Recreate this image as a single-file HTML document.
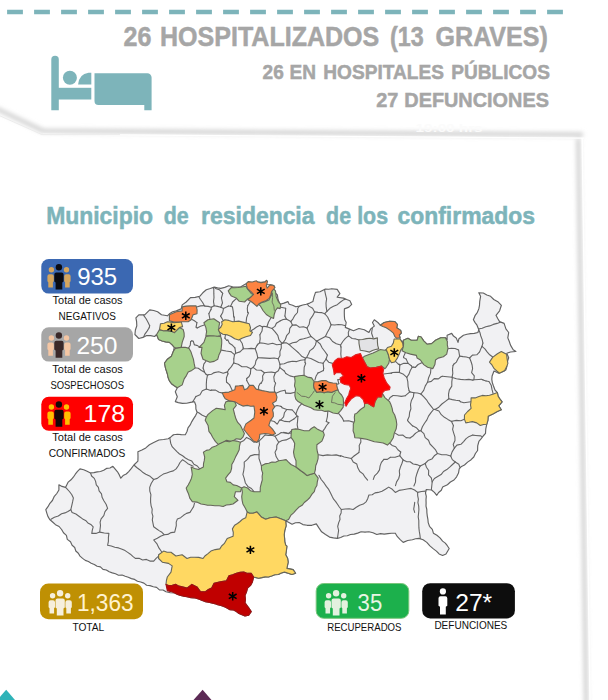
<!DOCTYPE html>
<html lang="es"><head><meta charset="utf-8"><title>Municipio de residencia de los confirmados</title>
<style>html,body{margin:0;padding:0;background:#fff}body{width:608px;height:700px;overflow:hidden;position:relative}svg{position:absolute;left:0;top:0;display:block}text{font-family:"Liberation Sans",sans-serif}</style></head><body>
<svg width="608" height="700" viewBox="0 0 608 700">
<defs><filter id="blur" x="-5%" y="-5%" width="110%" height="110%"><feGaussianBlur stdDeviation="1.9"/></filter></defs>
<rect x="0" y="0" width="608" height="700" fill="#fff"/>
<g filter="url(#blur)" fill="none" stroke="#d4d4d4" stroke-width="4.6" stroke-linejoin="round">
<polyline points="-4,108.5 43,130.8 300,132.6 583,134.6"/>
<polyline points="578.3,139 586.2,704"/>
</g>
<polyline points="43,134.4 300,136.2 584,138.2" fill="none" stroke="#fff" stroke-width="1.3"/>
<polyline points="582.2,138 590.1,704" fill="none" stroke="#fff" stroke-width="1.4"/>
<polyline points="-2,115 42,134.6 120,134.6" fill="none" stroke="#ececec" stroke-width="1"/>
<line x1="7.1" y1="12" x2="566" y2="12" stroke="#7db4ba" stroke-width="4.6" stroke-dasharray="15.8 11.2"/>
<g fill="#7db4ba">
<path d="M51.3,59.4 a3.75,3.75 0 0 1 7.5,0 V110.2 H51.3 Z"/>
<circle cx="69.9" cy="77.7" r="7"/>
<path d="M78.1,84.6 Q79,74 88.5,72.8 L91.3,72.8 L91.3,84.6 Z"/>
<rect x="58" y="87.8" width="33.3" height="11.7"/>
<path d="M94.5,73.2 H147.3 a4.3,4.3 0 0 1 4.3,4.3 V110.2 H144.3 V104.9 H98.5 a4,4 0 0 1 -4,-4 Z"/>
</g>
<text x="123.6" y="46.4" font-size="27.5" font-weight="bold" fill="#a6a6a6" text-anchor="start" textLength="27.9" lengthAdjust="spacingAndGlyphs" stroke="#a6a6a6" stroke-width="0.5">26</text>
<text x="160.0" y="46.4" font-size="27.5" font-weight="bold" fill="#a6a6a6" text-anchor="start" textLength="219.3" lengthAdjust="spacingAndGlyphs" stroke="#a6a6a6" stroke-width="0.5">HOSPITALIZADOS</text>
<text x="390.1" y="46.4" font-size="27.5" font-weight="bold" fill="#a6a6a6" text-anchor="start" textLength="33.7" lengthAdjust="spacingAndGlyphs" stroke="#a6a6a6" stroke-width="0.5">(13</text>
<text x="435.6" y="46.4" font-size="27.5" font-weight="bold" fill="#a6a6a6" text-anchor="start" textLength="112.2" lengthAdjust="spacingAndGlyphs" stroke="#a6a6a6" stroke-width="0.5">GRAVES)</text>
<text x="262.6" y="78.6" font-size="20.3" font-weight="bold" fill="#a6a6a6" text-anchor="start" textLength="21.2" lengthAdjust="spacingAndGlyphs" stroke="#a6a6a6" stroke-width="0.5">26</text>
<text x="289.6" y="78.6" font-size="20.3" font-weight="bold" fill="#a6a6a6" text-anchor="start" textLength="26.5" lengthAdjust="spacingAndGlyphs" stroke="#a6a6a6" stroke-width="0.5">EN</text>
<text x="323.3" y="78.6" font-size="20.3" font-weight="bold" fill="#a6a6a6" text-anchor="start" textLength="120.6" lengthAdjust="spacingAndGlyphs" stroke="#a6a6a6" stroke-width="0.5">HOSPITALES</text>
<text x="451.2" y="78.6" font-size="20.3" font-weight="bold" fill="#a6a6a6" text-anchor="start" textLength="98.7" lengthAdjust="spacingAndGlyphs" stroke="#a6a6a6" stroke-width="0.5">PÚBLICOS</text>
<text x="376.2" y="106.7" font-size="20.3" font-weight="bold" fill="#a6a6a6" text-anchor="start" textLength="22.1" lengthAdjust="spacingAndGlyphs" stroke="#a6a6a6" stroke-width="0.5">27</text>
<text x="404.3" y="106.7" font-size="20.3" font-weight="bold" fill="#a6a6a6" text-anchor="start" textLength="144.6" lengthAdjust="spacingAndGlyphs" stroke="#a6a6a6" stroke-width="0.5">DEFUNCIONES</text>
<text x="46.2" y="224.0" font-size="24.4" font-weight="bold" fill="#7db4ba" text-anchor="start" textLength="106.9" lengthAdjust="spacingAndGlyphs" stroke="#7db4ba" stroke-width="0.55">Municipio</text>
<text x="163.8" y="224.0" font-size="24.4" font-weight="bold" fill="#7db4ba" text-anchor="start" textLength="24.9" lengthAdjust="spacingAndGlyphs" stroke="#7db4ba" stroke-width="0.55">de</text>
<text x="201.1" y="224.0" font-size="24.4" font-weight="bold" fill="#7db4ba" text-anchor="start" textLength="113.4" lengthAdjust="spacingAndGlyphs" stroke="#7db4ba" stroke-width="0.55">residencia</text>
<text x="326.1" y="224.0" font-size="24.4" font-weight="bold" fill="#7db4ba" text-anchor="start" textLength="24.9" lengthAdjust="spacingAndGlyphs" stroke="#7db4ba" stroke-width="0.55">de</text>
<text x="357.2" y="224.0" font-size="24.4" font-weight="bold" fill="#7db4ba" text-anchor="start" textLength="30.8" lengthAdjust="spacingAndGlyphs" stroke="#7db4ba" stroke-width="0.55">los</text>
<text x="397.5" y="224.0" font-size="24.4" font-weight="bold" fill="#7db4ba" text-anchor="start" textLength="137.5" lengthAdjust="spacingAndGlyphs" stroke="#7db4ba" stroke-width="0.55">confirmados</text>
<text x="415.6" y="132.0" font-size="11" font-weight="bold" fill="#fbfbfb" text-anchor="start" textLength="67.0" lengthAdjust="spacingAndGlyphs" >19:00 hrs</text>
<g id="map">
<polygon points="134.9,334.5 135.4,330.0 136.8,325.7 136.6,321.7 135.9,317.8 138.8,314.8 144.7,314.8 147.7,311.8 149.7,309.9 153.7,310.5 157.6,311.8 161.5,314.8 167.4,315.8 169.4,313.8 172.6,311.7 176.3,310.9 181.2,308.9 182.2,304.9 186.2,302.0 190.5,297.6 195.2,297.4 199.7,296.3 202.8,292.8 206.3,289.7 210.3,288.5 214.2,287.1 217.5,287.9 220.8,288.4 224.8,287.4 228.7,285.8 232.6,286.7 236.5,287.1 240.5,287.1 243.8,285.1 247.1,283.2 251.7,282.8 256.3,281.8 260.9,282.2 265.5,281.8 266.8,284.5 270.6,284.7 274.2,285.8 273.4,291.1 277.4,295.0 278.1,299.8 280.0,304.2 284.0,303.1 287.9,301.6 289.2,304.2 292.6,305.2 295.8,306.8 299.3,306.1 302.8,305.0 306.3,304.2 309.7,303.1 312.9,301.6 314.0,296.9 315.5,292.4 320.0,291.8 325.4,289.0 328.6,289.3 331.8,288.7 337.2,289.4 339.9,293.6 337.2,297.2 343.5,298.1 346.7,299.5 349.9,300.8 351.7,304.4 348.9,307.1 344.4,308.9 344.3,312.5 344.4,316.2 344.7,319.5 346.2,322.5 345.3,327.4 348.9,328.9 353.5,330.7 358.9,328.5 364.3,329.8 368.9,332.5 370.7,328.9 374.3,326.1 372.5,322.5 374.3,319.8 377.9,322.5 380.3,325.2 384.2,322.5 389.5,321.2 394.7,321.5 397.4,324.5 396.7,327.8 400.7,330.4 401.3,333.1 399.3,335.0 400.0,337.7 400.0,339.0 402.6,342.9 403.3,340.3 407.9,338.3 411.2,340.3 417.1,340.3 418.4,336.3 421.1,337.0 423.7,340.9 427.0,344.2 431.6,343.6 435.5,340.3 440.8,337.7 445.4,337.7 447.1,339.7 447.1,335.2 451.7,333.4 453.5,336.1 456.2,337.9 458.0,342.4 458.9,338.8 463.4,335.2 467.0,334.2 470.6,333.6 474.3,333.4 477.9,332.5 478.8,329.8 477.0,325.2 475.1,322.6 473.4,319.8 475.2,315.3 477.4,312.3 478.8,308.9 479.5,305.3 479.7,301.7 480.6,296.3 478.8,292.7 483.3,293.0 486.8,295.0 490.6,296.3 493.8,299.5 497.8,301.7 501.4,305.3 499.6,310.8 496.0,315.3 497.7,318.5 499.6,321.6 504.1,323.4 505.9,328.9 508.7,332.5 507.8,337.9 509.3,341.5 510.5,345.1 513.2,349.7 515.9,351.5 510.5,352.0 506.8,353.3 508.7,357.8 506.8,363.2 506.8,366.6 505.9,369.9 503.9,371.3 498.7,373.2 494.0,371.0 492.1,376.0 491.8,379.4 492.3,382.6 493.4,385.8 495.0,390.0 497.4,392.6 498.1,396.1 500.0,399.2 502.1,401.8 498.7,405.8 501.3,409.7 497.3,411.6 493.4,413.7 488.2,416.3 487.9,420.3 486.8,424.2 485.8,428.8 485.5,433.4 483.2,436.0 481.2,438.7 478.9,441.3 477.7,445.8 477.6,450.5 475.4,453.5 473.8,457.0 471.1,459.7 467.6,462.1 464.5,465.0 461.5,466.4 459.2,468.9 458.5,473.1 456.6,476.8 454.0,480.0 450.4,482.0 447.4,484.7 442.6,487.1 441.3,490.3 438.6,492.5 436.8,495.3 434.4,492.4 431.6,490.0 426.3,489.5 425.5,493.0 426.3,496.3 426.0,499.6 426.1,502.9 426.0,506.2 426.8,509.5 426.9,512.8 427.3,516.1 427.9,519.3 428.2,522.6 429.5,526.3 432.3,529.4 433.4,533.2 436.9,535.3 440.0,537.9 442.6,541.1 445.3,543.1 447.3,545.7 449.2,548.5 446.0,554.0 442.6,555.5 439.1,553.9 436.4,551.1 433.4,548.9 429.9,545.9 426.8,542.4 423.1,539.8 418.9,538.4 415.6,538.8 412.4,539.7 407.7,540.5 403.2,542.4 400.2,539.6 397.4,536.7 395.3,533.2 391.6,533.3 387.9,533.6 384.2,534.1 380.5,533.6 376.8,534.5 373.0,532.7 368.9,531.8 365.0,532.1 361.1,531.8 357.7,533.1 354.2,534.1 350.5,534.5 347.3,535.7 343.8,536.0 340.7,537.5 337.4,538.4 333.4,537.9 329.5,537.1 325.5,534.5 321.6,531.8 318.9,527.9 316.3,523.9 311.8,525.3 307.1,525.3 302.9,524.6 299.2,522.6 295.5,522.7 292.1,524.2 288.9,522.4 285.7,520.7 286.1,525.9 284.8,530.3 284.2,534.8 284.6,538.3 284.8,541.8 285.7,545.2 286.9,546.2 286.4,550.5 285.7,554.8 287.6,558.3 288.2,562.2 286.9,568.4 293.1,569.6 295.6,573.3 291.9,574.5 288.2,573.2 284.5,572.1 281.3,573.0 278.3,574.5 274.8,574.7 271.6,575.9 268.4,577.0 265.1,576.9 261.8,577.6 258.6,578.2 253.6,577.0 252.4,581.9 250.5,585.4 247.5,588.1 246.5,591.9 245.0,595.5 245.4,599.2 245.0,602.9 248.7,607.9 251.2,611.6 248.7,615.3 245.0,616.0 242.0,614.7 239.0,613.5 236.4,611.6 233.5,609.9 230.0,609.7 227.0,608.0 224.0,606.6 221.0,605.5 217.8,604.8 214.8,603.6 211.7,602.9 208.5,602.2 205.3,601.6 202.3,600.5 199.3,599.2 195.3,598.0 191.1,597.6 187.0,596.8 183.8,596.2 180.7,595.4 177.6,594.4 174.7,593.0 170.3,592.8 166.0,591.8 163.0,590.0 159.4,589.9 156.6,587.4 153.3,586.7 150.0,585.6 146.6,585.2 143.9,583.1 140.7,582.0 137.5,581.2 134.6,579.4 131.4,578.6 128.3,577.3 125.2,576.2 122.1,575.0 118.5,575.2 115.5,573.8 112.3,572.9 109.2,571.8 106.3,570.0 103.0,569.4 100.4,566.9 97.1,566.3 94.3,564.5 91.2,563.2 88.4,561.5 85.3,560.4 82.6,558.4 80.0,556.1 78.3,553.2 75.8,551.0 74.7,547.5 72.1,545.3 70.5,541.8 67.3,539.4 66.4,535.4 63.5,532.8 61.6,529.5 59.1,526.5 55.5,524.7 52.6,522.0 49.7,519.5 47.9,516.4 46.8,513.1 45.8,509.7 48.0,506.7 49.9,503.3 52.4,500.5 54.1,496.7 56.8,493.5 58.9,490.0 58.9,484.7 62.0,486.4 65.5,487.4 68.2,482.1 71.0,479.8 73.3,477.2 75.3,474.2 77.5,471.4 80.0,468.9 83.7,469.7 87.1,471.3 90.5,472.9 93.9,472.6 97.2,471.9 100.5,471.5 103.7,470.3 106.5,468.4 110.0,468.0 112.9,466.3 115.2,469.1 117.5,471.8 119.3,474.9 120.8,478.2 123.1,475.6 126.2,474.0 128.7,471.6 131.4,468.4 133.9,465.0 137.9,461.1 138.0,456.5 137.9,451.8 141.9,450.0 145.8,447.9 149.4,444.8 153.7,442.6 158.9,440.0 163.6,439.5 168.2,438.7 170.9,436.9 173.4,434.7 177.4,434.3 181.3,434.6 185.3,434.7 187.0,431.5 188.0,427.9 190.2,424.9 191.8,421.6 193.6,418.6 195.6,415.6 197.1,412.4 195.9,409.0 195.8,405.2 194.5,401.8 190.5,402.4 186.6,403.2 182.4,403.4 178.3,402.6 175.3,401.6 177.3,396.7 175.3,391.8 177.3,387.8 174.3,385.8 171.5,383.7 169.4,380.9 168.1,377.5 167.4,374.0 165.5,368.1 164.5,363.2 167.4,359.2 171.4,356.2 173.4,351.3 174.3,347.4 172.0,344.7 169.4,342.4 165.7,341.9 162.1,341.0 158.6,339.5 156.6,334.5 154.6,336.5 150.7,335.6 146.7,335.5 142.9,337.4 138.8,338.5" fill="#f1f1f3" stroke="#626262" stroke-width="1.15" stroke-linejoin="round" />
<clipPath id="mc"><polygon points="134.9,334.5 135.4,330.0 136.8,325.7 136.6,321.7 135.9,317.8 138.8,314.8 144.7,314.8 147.7,311.8 149.7,309.9 153.7,310.5 157.6,311.8 161.5,314.8 167.4,315.8 169.4,313.8 172.6,311.7 176.3,310.9 181.2,308.9 182.2,304.9 186.2,302.0 190.5,297.6 195.2,297.4 199.7,296.3 202.8,292.8 206.3,289.7 210.3,288.5 214.2,287.1 217.5,287.9 220.8,288.4 224.8,287.4 228.7,285.8 232.6,286.7 236.5,287.1 240.5,287.1 243.8,285.1 247.1,283.2 251.7,282.8 256.3,281.8 260.9,282.2 265.5,281.8 266.8,284.5 270.6,284.7 274.2,285.8 273.4,291.1 277.4,295.0 278.1,299.8 280.0,304.2 284.0,303.1 287.9,301.6 289.2,304.2 292.6,305.2 295.8,306.8 299.3,306.1 302.8,305.0 306.3,304.2 309.7,303.1 312.9,301.6 314.0,296.9 315.5,292.4 320.0,291.8 325.4,289.0 328.6,289.3 331.8,288.7 337.2,289.4 339.9,293.6 337.2,297.2 343.5,298.1 346.7,299.5 349.9,300.8 351.7,304.4 348.9,307.1 344.4,308.9 344.3,312.5 344.4,316.2 344.7,319.5 346.2,322.5 345.3,327.4 348.9,328.9 353.5,330.7 358.9,328.5 364.3,329.8 368.9,332.5 370.7,328.9 374.3,326.1 372.5,322.5 374.3,319.8 377.9,322.5 380.3,325.2 384.2,322.5 389.5,321.2 394.7,321.5 397.4,324.5 396.7,327.8 400.7,330.4 401.3,333.1 399.3,335.0 400.0,337.7 400.0,339.0 402.6,342.9 403.3,340.3 407.9,338.3 411.2,340.3 417.1,340.3 418.4,336.3 421.1,337.0 423.7,340.9 427.0,344.2 431.6,343.6 435.5,340.3 440.8,337.7 445.4,337.7 447.1,339.7 447.1,335.2 451.7,333.4 453.5,336.1 456.2,337.9 458.0,342.4 458.9,338.8 463.4,335.2 467.0,334.2 470.6,333.6 474.3,333.4 477.9,332.5 478.8,329.8 477.0,325.2 475.1,322.6 473.4,319.8 475.2,315.3 477.4,312.3 478.8,308.9 479.5,305.3 479.7,301.7 480.6,296.3 478.8,292.7 483.3,293.0 486.8,295.0 490.6,296.3 493.8,299.5 497.8,301.7 501.4,305.3 499.6,310.8 496.0,315.3 497.7,318.5 499.6,321.6 504.1,323.4 505.9,328.9 508.7,332.5 507.8,337.9 509.3,341.5 510.5,345.1 513.2,349.7 515.9,351.5 510.5,352.0 506.8,353.3 508.7,357.8 506.8,363.2 506.8,366.6 505.9,369.9 503.9,371.3 498.7,373.2 494.0,371.0 492.1,376.0 491.8,379.4 492.3,382.6 493.4,385.8 495.0,390.0 497.4,392.6 498.1,396.1 500.0,399.2 502.1,401.8 498.7,405.8 501.3,409.7 497.3,411.6 493.4,413.7 488.2,416.3 487.9,420.3 486.8,424.2 485.8,428.8 485.5,433.4 483.2,436.0 481.2,438.7 478.9,441.3 477.7,445.8 477.6,450.5 475.4,453.5 473.8,457.0 471.1,459.7 467.6,462.1 464.5,465.0 461.5,466.4 459.2,468.9 458.5,473.1 456.6,476.8 454.0,480.0 450.4,482.0 447.4,484.7 442.6,487.1 441.3,490.3 438.6,492.5 436.8,495.3 434.4,492.4 431.6,490.0 426.3,489.5 425.5,493.0 426.3,496.3 426.0,499.6 426.1,502.9 426.0,506.2 426.8,509.5 426.9,512.8 427.3,516.1 427.9,519.3 428.2,522.6 429.5,526.3 432.3,529.4 433.4,533.2 436.9,535.3 440.0,537.9 442.6,541.1 445.3,543.1 447.3,545.7 449.2,548.5 446.0,554.0 442.6,555.5 439.1,553.9 436.4,551.1 433.4,548.9 429.9,545.9 426.8,542.4 423.1,539.8 418.9,538.4 415.6,538.8 412.4,539.7 407.7,540.5 403.2,542.4 400.2,539.6 397.4,536.7 395.3,533.2 391.6,533.3 387.9,533.6 384.2,534.1 380.5,533.6 376.8,534.5 373.0,532.7 368.9,531.8 365.0,532.1 361.1,531.8 357.7,533.1 354.2,534.1 350.5,534.5 347.3,535.7 343.8,536.0 340.7,537.5 337.4,538.4 333.4,537.9 329.5,537.1 325.5,534.5 321.6,531.8 318.9,527.9 316.3,523.9 311.8,525.3 307.1,525.3 302.9,524.6 299.2,522.6 295.5,522.7 292.1,524.2 288.9,522.4 285.7,520.7 286.1,525.9 284.8,530.3 284.2,534.8 284.6,538.3 284.8,541.8 285.7,545.2 286.9,546.2 286.4,550.5 285.7,554.8 287.6,558.3 288.2,562.2 286.9,568.4 293.1,569.6 295.6,573.3 291.9,574.5 288.2,573.2 284.5,572.1 281.3,573.0 278.3,574.5 274.8,574.7 271.6,575.9 268.4,577.0 265.1,576.9 261.8,577.6 258.6,578.2 253.6,577.0 252.4,581.9 250.5,585.4 247.5,588.1 246.5,591.9 245.0,595.5 245.4,599.2 245.0,602.9 248.7,607.9 251.2,611.6 248.7,615.3 245.0,616.0 242.0,614.7 239.0,613.5 236.4,611.6 233.5,609.9 230.0,609.7 227.0,608.0 224.0,606.6 221.0,605.5 217.8,604.8 214.8,603.6 211.7,602.9 208.5,602.2 205.3,601.6 202.3,600.5 199.3,599.2 195.3,598.0 191.1,597.6 187.0,596.8 183.8,596.2 180.7,595.4 177.6,594.4 174.7,593.0 170.3,592.8 166.0,591.8 163.0,590.0 159.4,589.9 156.6,587.4 153.3,586.7 150.0,585.6 146.6,585.2 143.9,583.1 140.7,582.0 137.5,581.2 134.6,579.4 131.4,578.6 128.3,577.3 125.2,576.2 122.1,575.0 118.5,575.2 115.5,573.8 112.3,572.9 109.2,571.8 106.3,570.0 103.0,569.4 100.4,566.9 97.1,566.3 94.3,564.5 91.2,563.2 88.4,561.5 85.3,560.4 82.6,558.4 80.0,556.1 78.3,553.2 75.8,551.0 74.7,547.5 72.1,545.3 70.5,541.8 67.3,539.4 66.4,535.4 63.5,532.8 61.6,529.5 59.1,526.5 55.5,524.7 52.6,522.0 49.7,519.5 47.9,516.4 46.8,513.1 45.8,509.7 48.0,506.7 49.9,503.3 52.4,500.5 54.1,496.7 56.8,493.5 58.9,490.0 58.9,484.7 62.0,486.4 65.5,487.4 68.2,482.1 71.0,479.8 73.3,477.2 75.3,474.2 77.5,471.4 80.0,468.9 83.7,469.7 87.1,471.3 90.5,472.9 93.9,472.6 97.2,471.9 100.5,471.5 103.7,470.3 106.5,468.4 110.0,468.0 112.9,466.3 115.2,469.1 117.5,471.8 119.3,474.9 120.8,478.2 123.1,475.6 126.2,474.0 128.7,471.6 131.4,468.4 133.9,465.0 137.9,461.1 138.0,456.5 137.9,451.8 141.9,450.0 145.8,447.9 149.4,444.8 153.7,442.6 158.9,440.0 163.6,439.5 168.2,438.7 170.9,436.9 173.4,434.7 177.4,434.3 181.3,434.6 185.3,434.7 187.0,431.5 188.0,427.9 190.2,424.9 191.8,421.6 193.6,418.6 195.6,415.6 197.1,412.4 195.9,409.0 195.8,405.2 194.5,401.8 190.5,402.4 186.6,403.2 182.4,403.4 178.3,402.6 175.3,401.6 177.3,396.7 175.3,391.8 177.3,387.8 174.3,385.8 171.5,383.7 169.4,380.9 168.1,377.5 167.4,374.0 165.5,368.1 164.5,363.2 167.4,359.2 171.4,356.2 173.4,351.3 174.3,347.4 172.0,344.7 169.4,342.4 165.7,341.9 162.1,341.0 158.6,339.5 156.6,334.5 154.6,336.5 150.7,335.6 146.7,335.5 142.9,337.4 138.8,338.5"/></clipPath>
<g clip-path="url(#mc)">
<polyline points="156.5,283.7 154.7,278.8" fill="none" stroke="#646464" stroke-width="1.1" stroke-linejoin="round" stroke-linecap="round"/>
<polyline points="154.7,278.8 152.8,274.3 150.6,270.0" fill="none" stroke="#646464" stroke-width="1.1" stroke-linejoin="round" stroke-linecap="round"/>
<polyline points="121.8,270.0 124.2,273.2 125.1,277.1 127.2,280.4 128.8,283.9 130.7,287.3 131.9,291.1 134.2,294.3 136.2,297.6 137.7,301.2 138.3,305.3 140.9,308.3 143.1,311.6 143.8,315.6 146.1,318.8 148.0,322.2 149.7,325.7" fill="none" stroke="#646464" stroke-width="1.1" stroke-linejoin="round" stroke-linecap="round"/>
<polyline points="193.8,270.0 195.5,273.5 195.4,277.4 196.5,281.0 196.9,284.7 197.0,288.5 198.3,292.1 198.4,295.9" fill="none" stroke="#646464" stroke-width="1.1" stroke-linejoin="round" stroke-linecap="round"/>
<polyline points="481.1,379.2 482.3,379.6" fill="none" stroke="#646464" stroke-width="1.1" stroke-linejoin="round" stroke-linecap="round"/>
<polyline points="481.1,379.2 479.0,379.5" fill="none" stroke="#646464" stroke-width="1.1" stroke-linejoin="round" stroke-linecap="round"/>
<polyline points="482.3,379.6 483.1,380.0" fill="none" stroke="#646464" stroke-width="1.1" stroke-linejoin="round" stroke-linecap="round"/>
<polyline points="479.0,379.5 474.2,379.7" fill="none" stroke="#646464" stroke-width="1.1" stroke-linejoin="round" stroke-linecap="round"/>
<polyline points="156.5,283.7 157.9,286.1" fill="none" stroke="#646464" stroke-width="1.1" stroke-linejoin="round" stroke-linecap="round"/>
<polyline points="478.3,329.0 479.9,332.4 480.8,336.0 482.1,339.4 482.9,343.0" fill="none" stroke="#646464" stroke-width="1.1" stroke-linejoin="round" stroke-linecap="round"/>
<polyline points="478.3,329.0 482.2,328.3 485.8,326.7 489.6,325.9 493.3,324.4 497.1,323.4 500.8,322.1 504.0,319.6 507.8,318.5 511.8,318.1 515.0,315.3 519.1,315.2 522.8,313.9 526.1,311.4 530.0,310.7" fill="none" stroke="#646464" stroke-width="1.1" stroke-linejoin="round" stroke-linecap="round"/>
<polyline points="290.8,321.6 292.4,325.1" fill="none" stroke="#646464" stroke-width="1.1" stroke-linejoin="round" stroke-linecap="round"/>
<polyline points="290.8,321.6 293.1,318.6 294.9,315.3 297.5,312.5 297.8,308.3 300.0,305.2 302.1,302.1 304.6,299.2" fill="none" stroke="#646464" stroke-width="1.1" stroke-linejoin="round" stroke-linecap="round"/>
<polyline points="304.6,299.2 306.3,303.0 308.9,306.1 312.6,308.3 314.6,311.9" fill="none" stroke="#646464" stroke-width="1.1" stroke-linejoin="round" stroke-linecap="round"/>
<polyline points="292.4,325.1 296.2,324.9 299.5,327.2 303.4,326.8 307.0,328.0" fill="none" stroke="#646464" stroke-width="1.1" stroke-linejoin="round" stroke-linecap="round"/>
<polyline points="314.6,311.9 312.6,315.9 310.0,319.6 309.2,324.2 307.0,328.0" fill="none" stroke="#646464" stroke-width="1.1" stroke-linejoin="round" stroke-linecap="round"/>
<polyline points="205.7,270.0 207.5,273.8 208.8,277.9 211.0,281.5 212.8,285.3" fill="none" stroke="#646464" stroke-width="1.1" stroke-linejoin="round" stroke-linecap="round"/>
<polyline points="212.8,285.3 215.4,288.4 219.3,289.7 222.0,292.5" fill="none" stroke="#646464" stroke-width="1.1" stroke-linejoin="round" stroke-linecap="round"/>
<polyline points="198.4,295.9 200.3,299.2 202.5,302.3 204.3,305.6" fill="none" stroke="#646464" stroke-width="1.1" stroke-linejoin="round" stroke-linecap="round"/>
<polyline points="196.7,307.0 200.5,305.9 204.3,305.6" fill="none" stroke="#646464" stroke-width="1.1" stroke-linejoin="round" stroke-linecap="round"/>
<polyline points="211.4,307.3 208.2,306.4 204.9,306.1" fill="none" stroke="#646464" stroke-width="1.1" stroke-linejoin="round" stroke-linecap="round"/>
<polyline points="211.4,307.3 214.2,305.7" fill="none" stroke="#646464" stroke-width="1.1" stroke-linejoin="round" stroke-linecap="round"/>
<polyline points="214.2,305.7 213.5,301.6 214.0,297.5 213.8,293.4 213.8,289.3 212.8,285.3" fill="none" stroke="#646464" stroke-width="1.1" stroke-linejoin="round" stroke-linecap="round"/>
<polyline points="204.3,305.6 204.9,306.1" fill="none" stroke="#646464" stroke-width="1.1" stroke-linejoin="round" stroke-linecap="round"/>
<polyline points="208.9,313.6 209.9,319.1" fill="none" stroke="#646464" stroke-width="1.1" stroke-linejoin="round" stroke-linecap="round"/>
<polyline points="149.7,325.7 149.2,327.7" fill="none" stroke="#646464" stroke-width="1.1" stroke-linejoin="round" stroke-linecap="round"/>
<polyline points="493.1,393.6 492.0,389.4 491.2,385.2 488.9,381.5" fill="none" stroke="#646464" stroke-width="1.1" stroke-linejoin="round" stroke-linecap="round"/>
<polyline points="488.9,381.5 486.1,381.0" fill="none" stroke="#646464" stroke-width="1.1" stroke-linejoin="round" stroke-linecap="round"/>
<polyline points="483.1,380.0 486.1,381.0" fill="none" stroke="#646464" stroke-width="1.1" stroke-linejoin="round" stroke-linecap="round"/>
<polyline points="502.3,512.1 499.5,509.2 497.4,505.7 493.5,503.8 491.3,500.3 488.8,497.1 486.0,494.2 483.7,490.8 479.8,488.9 476.8,486.1 474.6,482.7 472.0,479.6 469.5,476.4 466.7,473.5 463.8,470.6 460.3,468.4 458.8,464.2 455.3,462.0" fill="none" stroke="#646464" stroke-width="1.1" stroke-linejoin="round" stroke-linecap="round"/>
<polyline points="455.3,462.0 452.3,459.6 450.7,456.0" fill="none" stroke="#646464" stroke-width="1.1" stroke-linejoin="round" stroke-linecap="round"/>
<polyline points="450.7,456.0 452.1,451.9 454.4,448.1" fill="none" stroke="#646464" stroke-width="1.1" stroke-linejoin="round" stroke-linecap="round"/>
<polyline points="454.4,448.1 456.9,445.1 460.9,444.3 463.6,441.6 466.1,438.6 469.2,436.4 472.8,435.1" fill="none" stroke="#646464" stroke-width="1.1" stroke-linejoin="round" stroke-linecap="round"/>
<polyline points="472.8,435.1 475.7,435.5" fill="none" stroke="#646464" stroke-width="1.1" stroke-linejoin="round" stroke-linecap="round"/>
<polyline points="530.0,461.5 527.0,458.8 522.8,458.6 519.2,457.1 516.7,453.6 512.7,452.7 509.3,450.9 506.2,448.5 502.4,447.5 499.1,445.3 495.6,443.6 492.2,441.9 489.0,439.6 485.2,438.5" fill="none" stroke="#646464" stroke-width="1.1" stroke-linejoin="round" stroke-linecap="round"/>
<polyline points="475.7,435.5 480.8,435.9 485.2,438.5" fill="none" stroke="#646464" stroke-width="1.1" stroke-linejoin="round" stroke-linecap="round"/>
<polyline points="482.9,343.0 482.0,346.4" fill="none" stroke="#646464" stroke-width="1.1" stroke-linejoin="round" stroke-linecap="round"/>
<polyline points="482.0,346.4 484.9,348.9 487.1,351.9 489.7,354.8 492.7,357.0" fill="none" stroke="#646464" stroke-width="1.1" stroke-linejoin="round" stroke-linecap="round"/>
<polyline points="479.6,351.9 480.7,349.1 482.0,346.4" fill="none" stroke="#646464" stroke-width="1.1" stroke-linejoin="round" stroke-linecap="round"/>
<polyline points="455.3,462.0 452.5,464.5 449.7,467.2 446.8,469.6 443.5,471.5 441.1,474.6 437.7,476.5 434.4,478.5 432.2,481.8" fill="none" stroke="#646464" stroke-width="1.1" stroke-linejoin="round" stroke-linecap="round"/>
<polyline points="453.2,508.0 450.0,506.6 447.4,504.0 444.2,502.4" fill="none" stroke="#646464" stroke-width="1.1" stroke-linejoin="round" stroke-linecap="round"/>
<polyline points="432.2,481.8 431.7,486.5 431.2,491.2" fill="none" stroke="#646464" stroke-width="1.1" stroke-linejoin="round" stroke-linecap="round"/>
<polyline points="414.7,512.4 413.7,509.1 414.3,505.7 414.7,502.4" fill="none" stroke="#646464" stroke-width="1.1" stroke-linejoin="round" stroke-linecap="round"/>
<polyline points="479.6,351.9 476.8,354.8 472.4,355.1 469.6,358.0" fill="none" stroke="#646464" stroke-width="1.1" stroke-linejoin="round" stroke-linecap="round"/>
<polyline points="469.6,358.0 471.0,361.5 472.1,365.0 472.6,368.7 471.6,372.6 474.3,375.8 473.9,379.7" fill="none" stroke="#646464" stroke-width="1.1" stroke-linejoin="round" stroke-linecap="round"/>
<polyline points="478.3,329.0 474.7,326.6 471.0,324.3 466.8,323.1" fill="none" stroke="#646464" stroke-width="1.1" stroke-linejoin="round" stroke-linecap="round"/>
<polyline points="466.8,323.1 464.1,320.0 461.5,316.9 458.8,313.8 457.2,310.0 454.1,307.2 452.4,303.4 449.4,300.6 448.2,296.4 445.1,293.6" fill="none" stroke="#646464" stroke-width="1.1" stroke-linejoin="round" stroke-linecap="round"/>
<polyline points="451.9,421.2 456.3,420.4 460.8,420.8 465.0,419.0" fill="none" stroke="#646464" stroke-width="1.1" stroke-linejoin="round" stroke-linecap="round"/>
<polyline points="451.5,421.4 451.9,421.2" fill="none" stroke="#646464" stroke-width="1.1" stroke-linejoin="round" stroke-linecap="round"/>
<polyline points="451.5,421.4 453.4,425.6" fill="none" stroke="#646464" stroke-width="1.1" stroke-linejoin="round" stroke-linecap="round"/>
<polyline points="326.9,311.3 324.7,313.7" fill="none" stroke="#646464" stroke-width="1.1" stroke-linejoin="round" stroke-linecap="round"/>
<polyline points="326.9,311.3 329.9,308.3 333.5,306.3 337.3,304.7 340.5,302.0 343.9,299.6 348.1,298.5 351.8,296.7 354.9,293.9 358.7,292.1 361.9,289.6 365.9,288.1 368.9,285.1" fill="none" stroke="#646464" stroke-width="1.1" stroke-linejoin="round" stroke-linecap="round"/>
<polyline points="324.7,313.7 327.6,317.0 329.4,320.8 331.1,324.8" fill="none" stroke="#646464" stroke-width="1.1" stroke-linejoin="round" stroke-linecap="round"/>
<polyline points="363.2,307.3 364.0,303.9 365.2,300.6" fill="none" stroke="#646464" stroke-width="1.1" stroke-linejoin="round" stroke-linecap="round"/>
<polyline points="363.2,307.3 360.2,309.7 358.9,313.5 355.4,315.4 354.0,319.1 351.6,322.0 349.1,324.8" fill="none" stroke="#646464" stroke-width="1.1" stroke-linejoin="round" stroke-linecap="round"/>
<polyline points="331.1,324.8 334.7,325.0 338.3,324.5 341.9,324.8 345.5,325.7 349.1,324.8" fill="none" stroke="#646464" stroke-width="1.1" stroke-linejoin="round" stroke-linecap="round"/>
<polyline points="232.5,307.1 230.6,306.3" fill="none" stroke="#646464" stroke-width="1.1" stroke-linejoin="round" stroke-linecap="round"/>
<polyline points="230.6,306.3 232.6,302.0 236.0,298.8" fill="none" stroke="#646464" stroke-width="1.1" stroke-linejoin="round" stroke-linecap="round"/>
<polyline points="223.5,308.4 228.5,306.0" fill="none" stroke="#646464" stroke-width="1.1" stroke-linejoin="round" stroke-linecap="round"/>
<polyline points="223.5,308.4 220.8,307.2" fill="none" stroke="#646464" stroke-width="1.1" stroke-linejoin="round" stroke-linecap="round"/>
<polyline points="220.8,307.2 222.5,302.8 221.4,298.0 222.7,293.5" fill="none" stroke="#646464" stroke-width="1.1" stroke-linejoin="round" stroke-linecap="round"/>
<polyline points="211.4,307.3 211.0,309.6" fill="none" stroke="#646464" stroke-width="1.1" stroke-linejoin="round" stroke-linecap="round"/>
<polyline points="220.6,316.1 222.7,312.5 223.5,308.5" fill="none" stroke="#646464" stroke-width="1.1" stroke-linejoin="round" stroke-linecap="round"/>
<polyline points="214.2,305.7 217.5,306.4 220.8,307.2" fill="none" stroke="#646464" stroke-width="1.1" stroke-linejoin="round" stroke-linecap="round"/>
<polyline points="222.0,292.5 222.7,293.5" fill="none" stroke="#646464" stroke-width="1.1" stroke-linejoin="round" stroke-linecap="round"/>
<polyline points="230.6,306.3 228.5,306.0" fill="none" stroke="#646464" stroke-width="1.1" stroke-linejoin="round" stroke-linecap="round"/>
<polyline points="247.8,305.5 250.2,301.8" fill="none" stroke="#646464" stroke-width="1.1" stroke-linejoin="round" stroke-linecap="round"/>
<polyline points="208.9,313.6 211.0,309.6" fill="none" stroke="#646464" stroke-width="1.1" stroke-linejoin="round" stroke-linecap="round"/>
<polyline points="196.9,322.6 194.4,320.8 191.6,319.2" fill="none" stroke="#646464" stroke-width="1.1" stroke-linejoin="round" stroke-linecap="round"/>
<polyline points="290.8,321.6 286.3,319.1" fill="none" stroke="#646464" stroke-width="1.1" stroke-linejoin="round" stroke-linecap="round"/>
<polyline points="304.6,299.2 303.7,294.6 302.5,290.1 300.6,285.8" fill="none" stroke="#646464" stroke-width="1.1" stroke-linejoin="round" stroke-linecap="round"/>
<polyline points="286.3,319.1 284.9,316.0" fill="none" stroke="#646464" stroke-width="1.1" stroke-linejoin="round" stroke-linecap="round"/>
<polyline points="284.9,316.0 285.4,312.1 285.7,308.2" fill="none" stroke="#646464" stroke-width="1.1" stroke-linejoin="round" stroke-linecap="round"/>
<polyline points="323.9,270.0 323.5,274.2 325.0,278.2 325.0,282.4 325.0,286.5 324.7,290.7 325.6,294.8 326.6,298.9 326.0,303.1 326.2,307.2 326.9,311.3" fill="none" stroke="#646464" stroke-width="1.1" stroke-linejoin="round" stroke-linecap="round"/>
<polyline points="314.6,311.9 318.0,312.4 321.4,312.6 324.7,313.7" fill="none" stroke="#646464" stroke-width="1.1" stroke-linejoin="round" stroke-linecap="round"/>
<polyline points="300.6,285.8 300.5,284.9" fill="none" stroke="#646464" stroke-width="1.1" stroke-linejoin="round" stroke-linecap="round"/>
<polyline points="220.6,316.1 223.1,320.2" fill="none" stroke="#646464" stroke-width="1.1" stroke-linejoin="round" stroke-linecap="round"/>
<polyline points="473.9,379.7 472.9,380.1" fill="none" stroke="#646464" stroke-width="1.1" stroke-linejoin="round" stroke-linecap="round"/>
<polyline points="285.7,308.2 280.7,307.2" fill="none" stroke="#646464" stroke-width="1.1" stroke-linejoin="round" stroke-linecap="round"/>
<polyline points="280.4,320.8 276.4,323.3" fill="none" stroke="#646464" stroke-width="1.1" stroke-linejoin="round" stroke-linecap="round"/>
<polyline points="149.2,327.7 147.1,331.1 144.7,334.4 143.2,338.1 142.5,342.2 139.4,345.1 137.4,348.5 135.5,352.0 133.6,355.6 132.5,359.5" fill="none" stroke="#646464" stroke-width="1.1" stroke-linejoin="round" stroke-linecap="round"/>
<polyline points="292.4,325.1 289.8,328.3 289.3,332.6 286.6,335.7 285.3,339.5 283.0,342.9" fill="none" stroke="#646464" stroke-width="1.1" stroke-linejoin="round" stroke-linecap="round"/>
<polyline points="311.0,336.5 308.7,332.4 307.0,328.0" fill="none" stroke="#646464" stroke-width="1.1" stroke-linejoin="round" stroke-linecap="round"/>
<polyline points="311.0,336.5 307.3,337.7 303.6,338.8 299.7,339.6 296.5,342.1 292.6,342.7 289.0,344.4" fill="none" stroke="#646464" stroke-width="1.1" stroke-linejoin="round" stroke-linecap="round"/>
<polyline points="283.0,342.9 286.2,342.7 289.0,344.4" fill="none" stroke="#646464" stroke-width="1.1" stroke-linejoin="round" stroke-linecap="round"/>
<polyline points="311.0,336.5 313.8,338.6 316.4,341.1" fill="none" stroke="#646464" stroke-width="1.1" stroke-linejoin="round" stroke-linecap="round"/>
<polyline points="306.6,357.5 308.4,354.1 310.0,350.6 313.3,348.2 315.4,345.0 316.4,341.1" fill="none" stroke="#646464" stroke-width="1.1" stroke-linejoin="round" stroke-linecap="round"/>
<polyline points="306.6,357.5 305.6,358.2" fill="none" stroke="#646464" stroke-width="1.1" stroke-linejoin="round" stroke-linecap="round"/>
<polyline points="289.0,344.4 292.2,347.4 295.5,350.1 298.7,353.0 301.6,356.2 305.6,358.2" fill="none" stroke="#646464" stroke-width="1.1" stroke-linejoin="round" stroke-linecap="round"/>
<polyline points="247.8,305.5 247.3,308.6 247.6,311.6" fill="none" stroke="#646464" stroke-width="1.1" stroke-linejoin="round" stroke-linecap="round"/>
<polyline points="247.6,311.6 247.5,312.2" fill="none" stroke="#646464" stroke-width="1.1" stroke-linejoin="round" stroke-linecap="round"/>
<polyline points="248.4,312.9 246.6,317.6 246.1,322.5" fill="none" stroke="#646464" stroke-width="1.1" stroke-linejoin="round" stroke-linecap="round"/>
<polyline points="280.4,320.8 283.2,319.5 286.3,319.1" fill="none" stroke="#646464" stroke-width="1.1" stroke-linejoin="round" stroke-linecap="round"/>
<polyline points="276.4,323.3 274.9,326.4 272.0,328.4" fill="none" stroke="#646464" stroke-width="1.1" stroke-linejoin="round" stroke-linecap="round"/>
<polyline points="283.0,342.9 282.0,343.3" fill="none" stroke="#646464" stroke-width="1.1" stroke-linejoin="round" stroke-linecap="round"/>
<polyline points="282.0,343.3 279.0,339.9 277.8,335.3 275.1,331.8 272.0,328.4" fill="none" stroke="#646464" stroke-width="1.1" stroke-linejoin="round" stroke-linecap="round"/>
<polyline points="354.4,455.7 358.9,452.5" fill="none" stroke="#646464" stroke-width="1.1" stroke-linejoin="round" stroke-linecap="round"/>
<polyline points="358.9,452.5 359.4,449.0 359.2,445.4 360.9,442.1 360.7,438.5" fill="none" stroke="#646464" stroke-width="1.1" stroke-linejoin="round" stroke-linecap="round"/>
<polyline points="450.7,456.0 446.4,454.7 441.8,454.7 437.5,453.5" fill="none" stroke="#646464" stroke-width="1.1" stroke-linejoin="round" stroke-linecap="round"/>
<polyline points="432.2,481.8 431.3,477.9 428.5,474.8 428.7,470.5 426.4,467.2 425.2,463.5" fill="none" stroke="#646464" stroke-width="1.1" stroke-linejoin="round" stroke-linecap="round"/>
<polyline points="425.2,463.5 428.0,460.6 431.8,459.1 434.3,455.8 437.5,453.5" fill="none" stroke="#646464" stroke-width="1.1" stroke-linejoin="round" stroke-linecap="round"/>
<polyline points="454.4,448.1 453.2,444.4 455.0,440.5 454.9,436.8 453.7,433.1 452.6,429.4 453.4,425.6" fill="none" stroke="#646464" stroke-width="1.1" stroke-linejoin="round" stroke-linecap="round"/>
<polyline points="460.4,401.7 463.9,402.7 467.4,402.2 470.9,401.7" fill="none" stroke="#646464" stroke-width="1.1" stroke-linejoin="round" stroke-linecap="round"/>
<polyline points="460.4,401.7 459.4,400.7" fill="none" stroke="#646464" stroke-width="1.1" stroke-linejoin="round" stroke-linecap="round"/>
<polyline points="232.5,307.1 233.3,311.9 233.7,316.8" fill="none" stroke="#646464" stroke-width="1.1" stroke-linejoin="round" stroke-linecap="round"/>
<polyline points="247.5,312.2 248.4,312.9" fill="none" stroke="#646464" stroke-width="1.1" stroke-linejoin="round" stroke-linecap="round"/>
<polyline points="196.9,322.6 196.1,327.1" fill="none" stroke="#646464" stroke-width="1.1" stroke-linejoin="round" stroke-linecap="round"/>
<polyline points="331.1,324.8 329.4,328.7 327.3,332.5 325.4,336.4" fill="none" stroke="#646464" stroke-width="1.1" stroke-linejoin="round" stroke-linecap="round"/>
<polyline points="348.5,335.8 348.3,332.4 349.5,329.3" fill="none" stroke="#646464" stroke-width="1.1" stroke-linejoin="round" stroke-linecap="round"/>
<polyline points="348.5,335.8 345.4,338.4 342.8,341.5 340.6,345.0" fill="none" stroke="#646464" stroke-width="1.1" stroke-linejoin="round" stroke-linecap="round"/>
<polyline points="349.5,329.3 349.1,324.8" fill="none" stroke="#646464" stroke-width="1.1" stroke-linejoin="round" stroke-linecap="round"/>
<polyline points="325.4,336.4 329.7,337.8 332.6,341.5 336.3,343.8 340.6,345.0" fill="none" stroke="#646464" stroke-width="1.1" stroke-linejoin="round" stroke-linecap="round"/>
<polyline points="316.4,341.1 316.9,341.1" fill="none" stroke="#646464" stroke-width="1.1" stroke-linejoin="round" stroke-linecap="round"/>
<polyline points="325.4,336.4 321.1,338.7 316.9,341.1" fill="none" stroke="#646464" stroke-width="1.1" stroke-linejoin="round" stroke-linecap="round"/>
<polyline points="282.1,407.7 286.8,409.5" fill="none" stroke="#646464" stroke-width="1.1" stroke-linejoin="round" stroke-linecap="round"/>
<polyline points="286.8,409.5 284.4,412.8 283.6,416.9 280.8,420.0" fill="none" stroke="#646464" stroke-width="1.1" stroke-linejoin="round" stroke-linecap="round"/>
<polyline points="279.5,420.2 280.8,420.0" fill="none" stroke="#646464" stroke-width="1.1" stroke-linejoin="round" stroke-linecap="round"/>
<polyline points="420.2,465.9 416.8,464.6 413.2,464.0 410.1,461.8 406.4,461.6 403.1,459.9" fill="none" stroke="#646464" stroke-width="1.1" stroke-linejoin="round" stroke-linecap="round"/>
<polyline points="420.2,465.9 418.3,469.7 416.9,473.7 415.7,477.8 415.5,482.1 413.9,486.0" fill="none" stroke="#646464" stroke-width="1.1" stroke-linejoin="round" stroke-linecap="round"/>
<polyline points="403.1,459.9 401.9,463.5 400.4,467.1 399.3,470.8 399.7,474.9 398.7,478.5 396.6,481.9 395.5,485.6" fill="none" stroke="#646464" stroke-width="1.1" stroke-linejoin="round" stroke-linecap="round"/>
<polyline points="425.2,463.5 420.2,465.9" fill="none" stroke="#646464" stroke-width="1.1" stroke-linejoin="round" stroke-linecap="round"/>
<polyline points="399.4,372.4 403.5,374.3 406.8,377.3" fill="none" stroke="#646464" stroke-width="1.1" stroke-linejoin="round" stroke-linecap="round"/>
<polyline points="399.4,372.4 399.6,368.7 399.8,364.9" fill="none" stroke="#646464" stroke-width="1.1" stroke-linejoin="round" stroke-linecap="round"/>
<polyline points="406.8,377.3 409.0,374.1 410.3,370.5 412.2,367.2" fill="none" stroke="#646464" stroke-width="1.1" stroke-linejoin="round" stroke-linecap="round"/>
<polyline points="399.8,364.9 403.8,363.3 408.1,363.4" fill="none" stroke="#646464" stroke-width="1.1" stroke-linejoin="round" stroke-linecap="round"/>
<polyline points="412.2,367.2 411.3,365.8" fill="none" stroke="#646464" stroke-width="1.1" stroke-linejoin="round" stroke-linecap="round"/>
<polyline points="411.3,365.8 408.1,363.4" fill="none" stroke="#646464" stroke-width="1.1" stroke-linejoin="round" stroke-linecap="round"/>
<polyline points="458.6,350.0 455.1,348.5 451.4,348.3 447.7,348.7" fill="none" stroke="#646464" stroke-width="1.1" stroke-linejoin="round" stroke-linecap="round"/>
<polyline points="469.6,358.0 466.4,357.0 463.1,356.6 459.7,356.1" fill="none" stroke="#646464" stroke-width="1.1" stroke-linejoin="round" stroke-linecap="round"/>
<polyline points="459.7,356.1 459.5,355.4" fill="none" stroke="#646464" stroke-width="1.1" stroke-linejoin="round" stroke-linecap="round"/>
<polyline points="458.6,350.0 459.5,355.4" fill="none" stroke="#646464" stroke-width="1.1" stroke-linejoin="round" stroke-linecap="round"/>
<polyline points="459.4,400.7 455.9,400.3 452.3,399.6 448.8,398.8" fill="none" stroke="#646464" stroke-width="1.1" stroke-linejoin="round" stroke-linecap="round"/>
<polyline points="472.9,380.1 468.8,379.4 464.6,379.8 460.5,379.4 456.4,378.7 452.4,377.5" fill="none" stroke="#646464" stroke-width="1.1" stroke-linejoin="round" stroke-linecap="round"/>
<polyline points="452.4,377.5 451.8,381.8 451.8,386.1 449.3,390.1 448.5,394.3 448.8,398.8" fill="none" stroke="#646464" stroke-width="1.1" stroke-linejoin="round" stroke-linecap="round"/>
<polyline points="451.5,421.4 447.9,419.4 444.4,417.3 441.3,414.7 438.9,411.0 435.0,409.4" fill="none" stroke="#646464" stroke-width="1.1" stroke-linejoin="round" stroke-linecap="round"/>
<polyline points="448.8,398.8 445.4,401.4 441.9,404.0 438.8,407.2 435.0,409.4" fill="none" stroke="#646464" stroke-width="1.1" stroke-linejoin="round" stroke-linecap="round"/>
<polyline points="437.5,453.5 435.6,449.9 432.8,446.9 430.0,444.0 428.5,440.2 425.2,437.6 423.9,433.6 420.9,430.8" fill="none" stroke="#646464" stroke-width="1.1" stroke-linejoin="round" stroke-linecap="round"/>
<polyline points="420.9,430.8 422.4,426.8 424.5,423.2 426.9,419.9 428.5,416.1 431.0,412.7 433.6,409.5" fill="none" stroke="#646464" stroke-width="1.1" stroke-linejoin="round" stroke-linecap="round"/>
<polyline points="435.0,409.4 433.6,409.5" fill="none" stroke="#646464" stroke-width="1.1" stroke-linejoin="round" stroke-linecap="round"/>
<polyline points="459.7,356.1 457.9,359.0 456.4,362.1 453.7,364.3" fill="none" stroke="#646464" stroke-width="1.1" stroke-linejoin="round" stroke-linecap="round"/>
<polyline points="452.4,377.5 452.1,377.2" fill="none" stroke="#646464" stroke-width="1.1" stroke-linejoin="round" stroke-linecap="round"/>
<polyline points="452.1,377.2 452.8,373.3 452.5,369.4 453.0,365.5" fill="none" stroke="#646464" stroke-width="1.1" stroke-linejoin="round" stroke-linecap="round"/>
<polyline points="453.7,364.3 453.0,365.5" fill="none" stroke="#646464" stroke-width="1.1" stroke-linejoin="round" stroke-linecap="round"/>
<polyline points="234.2,317.1 234.3,320.9" fill="none" stroke="#646464" stroke-width="1.1" stroke-linejoin="round" stroke-linecap="round"/>
<polyline points="233.7,316.8 234.2,317.1" fill="none" stroke="#646464" stroke-width="1.1" stroke-linejoin="round" stroke-linecap="round"/>
<polyline points="272.0,328.4 266.9,326.7" fill="none" stroke="#646464" stroke-width="1.1" stroke-linejoin="round" stroke-linecap="round"/>
<polyline points="271.0,317.7 268.5,322.0 266.9,326.7" fill="none" stroke="#646464" stroke-width="1.1" stroke-linejoin="round" stroke-linecap="round"/>
<polyline points="259.5,342.9 260.2,338.9 259.9,334.8" fill="none" stroke="#646464" stroke-width="1.1" stroke-linejoin="round" stroke-linecap="round"/>
<polyline points="259.5,342.9 263.8,343.3 268.1,344.3 272.6,343.3 276.8,344.7 281.2,344.2" fill="none" stroke="#646464" stroke-width="1.1" stroke-linejoin="round" stroke-linecap="round"/>
<polyline points="282.0,343.3 281.2,344.2" fill="none" stroke="#646464" stroke-width="1.1" stroke-linejoin="round" stroke-linecap="round"/>
<polyline points="259.9,334.8 262.0,331.1 262.5,326.9" fill="none" stroke="#646464" stroke-width="1.1" stroke-linejoin="round" stroke-linecap="round"/>
<polyline points="262.5,326.9 263.8,326.4" fill="none" stroke="#646464" stroke-width="1.1" stroke-linejoin="round" stroke-linecap="round"/>
<polyline points="263.8,326.4 266.9,326.7" fill="none" stroke="#646464" stroke-width="1.1" stroke-linejoin="round" stroke-linecap="round"/>
<polyline points="193.2,341.2 194.4,344.7" fill="none" stroke="#646464" stroke-width="1.1" stroke-linejoin="round" stroke-linecap="round"/>
<polyline points="194.4,344.7 197.5,345.6 200.3,347.4" fill="none" stroke="#646464" stroke-width="1.1" stroke-linejoin="round" stroke-linecap="round"/>
<polyline points="305.6,358.2 304.9,359.7" fill="none" stroke="#646464" stroke-width="1.1" stroke-linejoin="round" stroke-linecap="round"/>
<polyline points="278.2,358.8 280.0,364.3" fill="none" stroke="#646464" stroke-width="1.1" stroke-linejoin="round" stroke-linecap="round"/>
<polyline points="278.2,358.8 280.0,355.4 279.9,351.5 281.3,348.0 281.2,344.2" fill="none" stroke="#646464" stroke-width="1.1" stroke-linejoin="round" stroke-linecap="round"/>
<polyline points="280.0,364.3 284.2,363.7 288.2,362.1 292.4,361.3 296.7,361.6 300.7,360.3 304.9,359.7" fill="none" stroke="#646464" stroke-width="1.1" stroke-linejoin="round" stroke-linecap="round"/>
<polyline points="257.8,357.8 261.9,357.9 266.0,358.1 270.0,358.4 274.2,358.0 278.2,358.8" fill="none" stroke="#646464" stroke-width="1.1" stroke-linejoin="round" stroke-linecap="round"/>
<polyline points="257.8,357.8 255.9,360.9 255.2,364.5 253.1,367.4" fill="none" stroke="#646464" stroke-width="1.1" stroke-linejoin="round" stroke-linecap="round"/>
<polyline points="253.1,367.4 256.5,370.0 261.0,370.2 264.4,372.7" fill="none" stroke="#646464" stroke-width="1.1" stroke-linejoin="round" stroke-linecap="round"/>
<polyline points="280.0,364.3 279.8,367.6" fill="none" stroke="#646464" stroke-width="1.1" stroke-linejoin="round" stroke-linecap="round"/>
<polyline points="279.8,367.6 278.3,370.8 275.3,372.7" fill="none" stroke="#646464" stroke-width="1.1" stroke-linejoin="round" stroke-linecap="round"/>
<polyline points="264.4,372.7 268.0,372.3 271.7,372.1 275.3,372.7" fill="none" stroke="#646464" stroke-width="1.1" stroke-linejoin="round" stroke-linecap="round"/>
<polyline points="259.7,325.6 262.5,326.9" fill="none" stroke="#646464" stroke-width="1.1" stroke-linejoin="round" stroke-linecap="round"/>
<polyline points="259.7,325.6 256.6,327.0 253.9,329.0 251.1,330.8" fill="none" stroke="#646464" stroke-width="1.1" stroke-linejoin="round" stroke-linecap="round"/>
<polyline points="221.4,350.1 226.2,351.0 230.9,351.7" fill="none" stroke="#646464" stroke-width="1.1" stroke-linejoin="round" stroke-linecap="round"/>
<polyline points="233.8,358.9 234.5,354.7" fill="none" stroke="#646464" stroke-width="1.1" stroke-linejoin="round" stroke-linecap="round"/>
<polyline points="230.9,351.7 234.5,354.7" fill="none" stroke="#646464" stroke-width="1.1" stroke-linejoin="round" stroke-linecap="round"/>
<polyline points="224.9,338.1 225.4,335.1" fill="none" stroke="#646464" stroke-width="1.1" stroke-linejoin="round" stroke-linecap="round"/>
<polyline points="224.9,338.1 226.8,340.5" fill="none" stroke="#646464" stroke-width="1.1" stroke-linejoin="round" stroke-linecap="round"/>
<polyline points="226.8,340.5 227.8,340.0" fill="none" stroke="#646464" stroke-width="1.1" stroke-linejoin="round" stroke-linecap="round"/>
<polyline points="257.8,357.8 256.8,353.2 255.2,348.7" fill="none" stroke="#646464" stroke-width="1.1" stroke-linejoin="round" stroke-linecap="round"/>
<polyline points="233.8,363.0 233.8,358.9" fill="none" stroke="#646464" stroke-width="1.1" stroke-linejoin="round" stroke-linecap="round"/>
<polyline points="233.8,363.0 238.1,364.2 242.0,366.7 246.7,366.8 250.8,368.7" fill="none" stroke="#646464" stroke-width="1.1" stroke-linejoin="round" stroke-linecap="round"/>
<polyline points="250.8,368.7 253.1,367.4" fill="none" stroke="#646464" stroke-width="1.1" stroke-linejoin="round" stroke-linecap="round"/>
<polyline points="255.2,348.7 251.2,348.4 247.3,348.8 243.3,348.7" fill="none" stroke="#646464" stroke-width="1.1" stroke-linejoin="round" stroke-linecap="round"/>
<polyline points="234.5,354.7 235.7,353.2" fill="none" stroke="#646464" stroke-width="1.1" stroke-linejoin="round" stroke-linecap="round"/>
<polyline points="243.3,348.7 240.0,351.9 235.7,353.2" fill="none" stroke="#646464" stroke-width="1.1" stroke-linejoin="round" stroke-linecap="round"/>
<polyline points="227.8,340.0 229.4,343.3 232.5,345.3 234.9,347.9" fill="none" stroke="#646464" stroke-width="1.1" stroke-linejoin="round" stroke-linecap="round"/>
<polyline points="235.7,353.2 234.9,347.9" fill="none" stroke="#646464" stroke-width="1.1" stroke-linejoin="round" stroke-linecap="round"/>
<polyline points="197.2,328.0 200.6,326.3 204.2,325.1" fill="none" stroke="#646464" stroke-width="1.1" stroke-linejoin="round" stroke-linecap="round"/>
<polyline points="196.1,327.1 197.2,328.0" fill="none" stroke="#646464" stroke-width="1.1" stroke-linejoin="round" stroke-linecap="round"/>
<polyline points="193.2,341.2 191.8,340.8" fill="none" stroke="#646464" stroke-width="1.1" stroke-linejoin="round" stroke-linecap="round"/>
<polyline points="340.5,456.1 336.2,454.9 331.8,455.3 327.4,454.9 323.0,455.6 318.6,454.8" fill="none" stroke="#646464" stroke-width="1.1" stroke-linejoin="round" stroke-linecap="round"/>
<polyline points="305.6,363.6 304.2,367.3 304.0,371.1 304.1,375.0" fill="none" stroke="#646464" stroke-width="1.1" stroke-linejoin="round" stroke-linecap="round"/>
<polyline points="306.6,357.5 310.8,358.5 314.8,360.5 318.7,362.5 323.1,363.2" fill="none" stroke="#646464" stroke-width="1.1" stroke-linejoin="round" stroke-linecap="round"/>
<polyline points="323.1,363.2 323.7,368.2" fill="none" stroke="#646464" stroke-width="1.1" stroke-linejoin="round" stroke-linecap="round"/>
<polyline points="305.6,363.6 305.1,362.6" fill="none" stroke="#646464" stroke-width="1.1" stroke-linejoin="round" stroke-linecap="round"/>
<polyline points="318.1,372.8 318.8,372.7" fill="none" stroke="#646464" stroke-width="1.1" stroke-linejoin="round" stroke-linecap="round"/>
<polyline points="318.8,372.7 323.4,370.6" fill="none" stroke="#646464" stroke-width="1.1" stroke-linejoin="round" stroke-linecap="round"/>
<polyline points="304.9,359.7 305.1,362.6" fill="none" stroke="#646464" stroke-width="1.1" stroke-linejoin="round" stroke-linecap="round"/>
<polyline points="323.7,368.2 323.4,370.6" fill="none" stroke="#646464" stroke-width="1.1" stroke-linejoin="round" stroke-linecap="round"/>
<polyline points="389.4,443.0 392.1,445.4 395.7,446.7 397.9,449.8 400.7,452.0" fill="none" stroke="#646464" stroke-width="1.1" stroke-linejoin="round" stroke-linecap="round"/>
<polyline points="408.4,421.6 407.5,420.3" fill="none" stroke="#646464" stroke-width="1.1" stroke-linejoin="round" stroke-linecap="round"/>
<polyline points="279.8,367.6 284.3,371.0" fill="none" stroke="#646464" stroke-width="1.1" stroke-linejoin="round" stroke-linecap="round"/>
<polyline points="264.4,372.7 262.6,376.0 262.8,379.9 261.2,383.2" fill="none" stroke="#646464" stroke-width="1.1" stroke-linejoin="round" stroke-linecap="round"/>
<polyline points="275.3,372.7 273.8,377.0 274.4,381.5" fill="none" stroke="#646464" stroke-width="1.1" stroke-linejoin="round" stroke-linecap="round"/>
<polyline points="233.8,363.0 233.5,363.3" fill="none" stroke="#646464" stroke-width="1.1" stroke-linejoin="round" stroke-linecap="round"/>
<polyline points="233.5,363.3 231.4,366.6 228.8,369.6" fill="none" stroke="#646464" stroke-width="1.1" stroke-linejoin="round" stroke-linecap="round"/>
<polyline points="259.5,342.9 258.0,344.1" fill="none" stroke="#646464" stroke-width="1.1" stroke-linejoin="round" stroke-linecap="round"/>
<polyline points="255.2,348.7 257.0,345.4" fill="none" stroke="#646464" stroke-width="1.1" stroke-linejoin="round" stroke-linecap="round"/>
<polyline points="258.0,344.1 257.0,345.4" fill="none" stroke="#646464" stroke-width="1.1" stroke-linejoin="round" stroke-linecap="round"/>
<polyline points="243.3,348.7 243.2,347.5" fill="none" stroke="#646464" stroke-width="1.1" stroke-linejoin="round" stroke-linecap="round"/>
<polyline points="239.6,339.5 242.1,343.2 243.2,347.5" fill="none" stroke="#646464" stroke-width="1.1" stroke-linejoin="round" stroke-linecap="round"/>
<polyline points="190.6,341.6 190.3,345.1 188.4,348.2" fill="none" stroke="#646464" stroke-width="1.1" stroke-linejoin="round" stroke-linecap="round"/>
<polyline points="191.8,340.8 190.6,341.6" fill="none" stroke="#646464" stroke-width="1.1" stroke-linejoin="round" stroke-linecap="round"/>
<polyline points="341.0,347.0 341.0,350.5 340.8,354.0 341.2,357.5" fill="none" stroke="#646464" stroke-width="1.1" stroke-linejoin="round" stroke-linecap="round"/>
<polyline points="341.0,347.0 340.8,346.7" fill="none" stroke="#646464" stroke-width="1.1" stroke-linejoin="round" stroke-linecap="round"/>
<polyline points="363.2,307.3 364.4,311.2 366.5,314.7 367.8,318.5 367.7,322.7 369.6,326.3" fill="none" stroke="#646464" stroke-width="1.1" stroke-linejoin="round" stroke-linecap="round"/>
<polyline points="318.1,372.8 316.0,376.3 314.9,380.2" fill="none" stroke="#646464" stroke-width="1.1" stroke-linejoin="round" stroke-linecap="round"/>
<polyline points="293.8,419.1 297.1,416.2" fill="none" stroke="#646464" stroke-width="1.1" stroke-linejoin="round" stroke-linecap="round"/>
<polyline points="297.1,416.2 297.9,416.4" fill="none" stroke="#646464" stroke-width="1.1" stroke-linejoin="round" stroke-linecap="round"/>
<polyline points="297.9,416.4 297.6,420.6 297.2,424.8 297.9,428.9" fill="none" stroke="#646464" stroke-width="1.1" stroke-linejoin="round" stroke-linecap="round"/>
<polyline points="289.3,421.7 293.8,419.1" fill="none" stroke="#646464" stroke-width="1.1" stroke-linejoin="round" stroke-linecap="round"/>
<polyline points="412.5,425.8 416.3,427.7 419.2,430.9" fill="none" stroke="#646464" stroke-width="1.1" stroke-linejoin="round" stroke-linecap="round"/>
<polyline points="419.2,430.9 415.4,433.4" fill="none" stroke="#646464" stroke-width="1.1" stroke-linejoin="round" stroke-linecap="round"/>
<polyline points="408.4,421.6 412.5,425.8" fill="none" stroke="#646464" stroke-width="1.1" stroke-linejoin="round" stroke-linecap="round"/>
<polyline points="420.9,430.8 419.2,430.9" fill="none" stroke="#646464" stroke-width="1.1" stroke-linejoin="round" stroke-linecap="round"/>
<polyline points="433.6,409.5 431.2,406.3 428.6,403.2 426.5,399.8 423.8,396.8 420.9,394.0" fill="none" stroke="#646464" stroke-width="1.1" stroke-linejoin="round" stroke-linecap="round"/>
<polyline points="420.9,394.0 417.5,393.0 413.9,392.8" fill="none" stroke="#646464" stroke-width="1.1" stroke-linejoin="round" stroke-linecap="round"/>
<polyline points="413.9,392.8 413.4,396.8 411.4,400.5 410.5,404.4 410.9,408.7 409.6,412.5 409.2,416.6 407.5,420.3" fill="none" stroke="#646464" stroke-width="1.1" stroke-linejoin="round" stroke-linecap="round"/>
<polyline points="399.7,455.7 400.7,452.0" fill="none" stroke="#646464" stroke-width="1.1" stroke-linejoin="round" stroke-linecap="round"/>
<polyline points="399.7,455.7 403.1,459.9" fill="none" stroke="#646464" stroke-width="1.1" stroke-linejoin="round" stroke-linecap="round"/>
<polyline points="410.0,438.0 412.9,436.0 415.4,433.4" fill="none" stroke="#646464" stroke-width="1.1" stroke-linejoin="round" stroke-linecap="round"/>
<polyline points="410.0,438.0 406.0,437.6 402.7,435.0 398.6,435.2 395.1,433.1" fill="none" stroke="#646464" stroke-width="1.1" stroke-linejoin="round" stroke-linecap="round"/>
<polyline points="340.8,455.7 340.5,456.1" fill="none" stroke="#646464" stroke-width="1.1" stroke-linejoin="round" stroke-linecap="round"/>
<polyline points="452.1,377.2 447.2,376.7 442.4,376.2" fill="none" stroke="#646464" stroke-width="1.1" stroke-linejoin="round" stroke-linecap="round"/>
<polyline points="420.9,394.0 423.7,390.4 425.2,386.1 427.5,382.2" fill="none" stroke="#646464" stroke-width="1.1" stroke-linejoin="round" stroke-linecap="round"/>
<polyline points="442.4,376.2 441.4,376.5" fill="none" stroke="#646464" stroke-width="1.1" stroke-linejoin="round" stroke-linecap="round"/>
<polyline points="441.4,376.5 438.4,378.9 434.2,378.6 431.3,381.4 427.6,382.2" fill="none" stroke="#646464" stroke-width="1.1" stroke-linejoin="round" stroke-linecap="round"/>
<polyline points="408.1,363.4 406.2,359.1" fill="none" stroke="#646464" stroke-width="1.1" stroke-linejoin="round" stroke-linecap="round"/>
<polyline points="181.1,412.9 183.8,409.9 186.8,407.5" fill="none" stroke="#646464" stroke-width="1.1" stroke-linejoin="round" stroke-linecap="round"/>
<polyline points="186.8,407.5 190.3,410.4 194.7,411.1 198.7,412.8 202.3,415.3 206.3,417.0" fill="none" stroke="#646464" stroke-width="1.1" stroke-linejoin="round" stroke-linecap="round"/>
<polyline points="187.4,406.9 190.9,404.9 193.0,401.5" fill="none" stroke="#646464" stroke-width="1.1" stroke-linejoin="round" stroke-linecap="round"/>
<polyline points="193.0,401.5 193.1,401.3" fill="none" stroke="#646464" stroke-width="1.1" stroke-linejoin="round" stroke-linecap="round"/>
<polyline points="163.6,422.6 166.9,420.3 170.1,417.8 173.7,416.0 177.4,414.3 181.1,412.9" fill="none" stroke="#646464" stroke-width="1.1" stroke-linejoin="round" stroke-linecap="round"/>
<polyline points="186.8,407.5 187.4,406.9" fill="none" stroke="#646464" stroke-width="1.1" stroke-linejoin="round" stroke-linecap="round"/>
<polyline points="250.8,368.7 250.4,373.6" fill="none" stroke="#646464" stroke-width="1.1" stroke-linejoin="round" stroke-linecap="round"/>
<polyline points="261.2,383.2 260.3,383.3" fill="none" stroke="#646464" stroke-width="1.1" stroke-linejoin="round" stroke-linecap="round"/>
<polyline points="250.4,373.6 249.1,376.5 246.7,378.5" fill="none" stroke="#646464" stroke-width="1.1" stroke-linejoin="round" stroke-linecap="round"/>
<polyline points="246.7,378.5 246.7,380.4" fill="none" stroke="#646464" stroke-width="1.1" stroke-linejoin="round" stroke-linecap="round"/>
<polyline points="246.7,380.4 249.6,385.7" fill="none" stroke="#646464" stroke-width="1.1" stroke-linejoin="round" stroke-linecap="round"/>
<polyline points="295.0,392.2 290.5,393.4 285.8,393.1" fill="none" stroke="#646464" stroke-width="1.1" stroke-linejoin="round" stroke-linecap="round"/>
<polyline points="323.1,363.2 326.0,359.2" fill="none" stroke="#646464" stroke-width="1.1" stroke-linejoin="round" stroke-linecap="round"/>
<polyline points="316.9,341.1 320.2,344.0 322.2,348.0 324.9,351.5 327.4,355.1" fill="none" stroke="#646464" stroke-width="1.1" stroke-linejoin="round" stroke-linecap="round"/>
<polyline points="326.0,359.2 327.4,355.1" fill="none" stroke="#646464" stroke-width="1.1" stroke-linejoin="round" stroke-linecap="round"/>
<polyline points="340.6,345.0 340.8,346.7" fill="none" stroke="#646464" stroke-width="1.1" stroke-linejoin="round" stroke-linecap="round"/>
<polyline points="348.5,335.8 349.2,336.4" fill="none" stroke="#646464" stroke-width="1.1" stroke-linejoin="round" stroke-linecap="round"/>
<polyline points="349.2,336.4 352.1,338.5 355.7,338.9 359.0,340.1" fill="none" stroke="#646464" stroke-width="1.1" stroke-linejoin="round" stroke-linecap="round"/>
<polyline points="406.2,359.1 403.7,357.6" fill="none" stroke="#646464" stroke-width="1.1" stroke-linejoin="round" stroke-linecap="round"/>
<polyline points="405.3,352.7 403.5,356.9" fill="none" stroke="#646464" stroke-width="1.1" stroke-linejoin="round" stroke-linecap="round"/>
<polyline points="403.7,357.6 403.5,356.9" fill="none" stroke="#646464" stroke-width="1.1" stroke-linejoin="round" stroke-linecap="round"/>
<polyline points="399.8,364.9 399.4,364.4" fill="none" stroke="#646464" stroke-width="1.1" stroke-linejoin="round" stroke-linecap="round"/>
<polyline points="280.5,406.3 277.0,405.5 273.6,406.7" fill="none" stroke="#646464" stroke-width="1.1" stroke-linejoin="round" stroke-linecap="round"/>
<polyline points="282.1,407.7 281.5,406.6" fill="none" stroke="#646464" stroke-width="1.1" stroke-linejoin="round" stroke-linecap="round"/>
<polyline points="281.5,406.6 280.5,406.3" fill="none" stroke="#646464" stroke-width="1.1" stroke-linejoin="round" stroke-linecap="round"/>
<polyline points="351.3,458.5 347.8,457.8 344.2,457.0 340.8,455.7" fill="none" stroke="#646464" stroke-width="1.1" stroke-linejoin="round" stroke-linecap="round"/>
<polyline points="351.3,458.5 353.2,462.0 356.8,464.1 357.9,468.1 359.8,471.5 363.0,473.9 365.1,477.2 367.6,480.2" fill="none" stroke="#646464" stroke-width="1.1" stroke-linejoin="round" stroke-linecap="round"/>
<polyline points="390.4,457.3 387.4,459.4 383.9,459.4" fill="none" stroke="#646464" stroke-width="1.1" stroke-linejoin="round" stroke-linecap="round"/>
<polyline points="399.7,455.7 395.1,457.2 390.4,457.3" fill="none" stroke="#646464" stroke-width="1.1" stroke-linejoin="round" stroke-linecap="round"/>
<polyline points="373.3,479.4 374.6,475.8 377.4,473.1 379.5,469.9 380.1,465.9 381.4,462.4 383.9,459.4" fill="none" stroke="#646464" stroke-width="1.1" stroke-linejoin="round" stroke-linecap="round"/>
<polyline points="354.4,455.7 351.3,458.5" fill="none" stroke="#646464" stroke-width="1.1" stroke-linejoin="round" stroke-linecap="round"/>
<polyline points="388.4,400.6 390.1,397.5 393.1,395.5" fill="none" stroke="#646464" stroke-width="1.1" stroke-linejoin="round" stroke-linecap="round"/>
<polyline points="393.1,395.5 397.2,395.8 401.3,396.4 405.4,395.7" fill="none" stroke="#646464" stroke-width="1.1" stroke-linejoin="round" stroke-linecap="round"/>
<polyline points="413.9,392.8 409.8,391.9" fill="none" stroke="#646464" stroke-width="1.1" stroke-linejoin="round" stroke-linecap="round"/>
<polyline points="405.4,395.7 409.8,391.9" fill="none" stroke="#646464" stroke-width="1.1" stroke-linejoin="round" stroke-linecap="round"/>
<polyline points="353.4,422.1 348.7,420.7 343.9,421.0" fill="none" stroke="#646464" stroke-width="1.1" stroke-linejoin="round" stroke-linecap="round"/>
<polyline points="328.9,422.7 326.5,425.5 324.7,428.6 322.5,431.6" fill="none" stroke="#646464" stroke-width="1.1" stroke-linejoin="round" stroke-linecap="round"/>
<polyline points="421.8,362.7 418.1,364.5 415.2,367.5" fill="none" stroke="#646464" stroke-width="1.1" stroke-linejoin="round" stroke-linecap="round"/>
<polyline points="406.8,377.3 407.8,381.7 408.1,386.3 409.1,390.8" fill="none" stroke="#646464" stroke-width="1.1" stroke-linejoin="round" stroke-linecap="round"/>
<polyline points="412.2,367.2 413.7,367.1" fill="none" stroke="#646464" stroke-width="1.1" stroke-linejoin="round" stroke-linecap="round"/>
<polyline points="413.7,367.1 415.2,367.5" fill="none" stroke="#646464" stroke-width="1.1" stroke-linejoin="round" stroke-linecap="round"/>
<polyline points="409.8,391.9 409.1,390.8" fill="none" stroke="#646464" stroke-width="1.1" stroke-linejoin="round" stroke-linecap="round"/>
<polyline points="208.4,374.7 211.5,374.2 214.3,372.6" fill="none" stroke="#646464" stroke-width="1.1" stroke-linejoin="round" stroke-linecap="round"/>
<polyline points="203.1,368.0 203.8,364.1 206.1,361.0" fill="none" stroke="#646464" stroke-width="1.1" stroke-linejoin="round" stroke-linecap="round"/>
<polyline points="203.1,368.0 204.6,372.3" fill="none" stroke="#646464" stroke-width="1.1" stroke-linejoin="round" stroke-linecap="round"/>
<polyline points="204.6,372.3 205.5,373.8" fill="none" stroke="#646464" stroke-width="1.1" stroke-linejoin="round" stroke-linecap="round"/>
<polyline points="205.5,373.8 207.5,375.2" fill="none" stroke="#646464" stroke-width="1.1" stroke-linejoin="round" stroke-linecap="round"/>
<polyline points="208.4,374.7 207.5,375.2" fill="none" stroke="#646464" stroke-width="1.1" stroke-linejoin="round" stroke-linecap="round"/>
<polyline points="228.8,369.6 227.5,371.9" fill="none" stroke="#646464" stroke-width="1.1" stroke-linejoin="round" stroke-linecap="round"/>
<polyline points="214.3,372.6 218.7,371.8 223.2,373.2 227.5,371.9" fill="none" stroke="#646464" stroke-width="1.1" stroke-linejoin="round" stroke-linecap="round"/>
<polyline points="229.7,384.9 226.5,382.0" fill="none" stroke="#646464" stroke-width="1.1" stroke-linejoin="round" stroke-linecap="round"/>
<polyline points="228.0,373.8 226.4,377.8 226.5,382.0" fill="none" stroke="#646464" stroke-width="1.1" stroke-linejoin="round" stroke-linecap="round"/>
<polyline points="228.0,373.8 227.5,371.9" fill="none" stroke="#646464" stroke-width="1.1" stroke-linejoin="round" stroke-linecap="round"/>
<polyline points="204.6,372.3 201.4,370.5 198.3,368.3 194.5,367.8" fill="none" stroke="#646464" stroke-width="1.1" stroke-linejoin="round" stroke-linecap="round"/>
<polyline points="196.0,396.4 193.1,401.3" fill="none" stroke="#646464" stroke-width="1.1" stroke-linejoin="round" stroke-linecap="round"/>
<polyline points="196.0,396.4 200.0,394.7 202.3,390.7 206.4,389.0" fill="none" stroke="#646464" stroke-width="1.1" stroke-linejoin="round" stroke-linecap="round"/>
<polyline points="206.4,389.0 206.3,384.4 206.6,379.7 207.5,375.2" fill="none" stroke="#646464" stroke-width="1.1" stroke-linejoin="round" stroke-linecap="round"/>
<polyline points="260.3,383.3 258.6,386.2 258.6,389.5" fill="none" stroke="#646464" stroke-width="1.1" stroke-linejoin="round" stroke-linecap="round"/>
<polyline points="284.3,371.0 285.8,373.5" fill="none" stroke="#646464" stroke-width="1.1" stroke-linejoin="round" stroke-linecap="round"/>
<polyline points="285.8,373.5 289.9,375.9 294.4,377.0" fill="none" stroke="#646464" stroke-width="1.1" stroke-linejoin="round" stroke-linecap="round"/>
<polyline points="285.0,390.2 280.4,391.3 276.1,393.3" fill="none" stroke="#646464" stroke-width="1.1" stroke-linejoin="round" stroke-linecap="round"/>
<polyline points="275.6,383.0 274.3,387.7 274.5,392.5" fill="none" stroke="#646464" stroke-width="1.1" stroke-linejoin="round" stroke-linecap="round"/>
<polyline points="285.8,393.1 285.0,390.2" fill="none" stroke="#646464" stroke-width="1.1" stroke-linejoin="round" stroke-linecap="round"/>
<polyline points="274.4,381.5 275.6,383.0" fill="none" stroke="#646464" stroke-width="1.1" stroke-linejoin="round" stroke-linecap="round"/>
<polyline points="229.7,384.9 232.2,390.2" fill="none" stroke="#646464" stroke-width="1.1" stroke-linejoin="round" stroke-linecap="round"/>
<polyline points="326.0,359.2 328.7,362.2 332.6,363.4" fill="none" stroke="#646464" stroke-width="1.1" stroke-linejoin="round" stroke-linecap="round"/>
<polyline points="398.4,364.2 395.2,361.2" fill="none" stroke="#646464" stroke-width="1.1" stroke-linejoin="round" stroke-linecap="round"/>
<polyline points="399.4,364.4 398.4,364.2" fill="none" stroke="#646464" stroke-width="1.1" stroke-linejoin="round" stroke-linecap="round"/>
<polyline points="283.5,432.4 287.4,433.0 291.3,433.2" fill="none" stroke="#646464" stroke-width="1.1" stroke-linejoin="round" stroke-linecap="round"/>
<polyline points="297.1,416.2 295.9,414.2" fill="none" stroke="#646464" stroke-width="1.1" stroke-linejoin="round" stroke-linecap="round"/>
<polyline points="301.8,403.7 299.0,406.7 297.2,410.3 295.9,414.2" fill="none" stroke="#646464" stroke-width="1.1" stroke-linejoin="round" stroke-linecap="round"/>
<polyline points="326.3,421.5 327.4,416.6 327.8,411.6" fill="none" stroke="#646464" stroke-width="1.1" stroke-linejoin="round" stroke-linecap="round"/>
<polyline points="328.9,422.7 326.3,421.5" fill="none" stroke="#646464" stroke-width="1.1" stroke-linejoin="round" stroke-linecap="round"/>
<polyline points="343.8,421.2 342.3,418.1 340.2,415.3 337.9,412.7" fill="none" stroke="#646464" stroke-width="1.1" stroke-linejoin="round" stroke-linecap="round"/>
<polyline points="427.6,382.2 428.6,377.7 430.5,373.4 430.9,368.7" fill="none" stroke="#646464" stroke-width="1.1" stroke-linejoin="round" stroke-linecap="round"/>
<polyline points="337.8,379.7 340.1,379.4" fill="none" stroke="#646464" stroke-width="1.1" stroke-linejoin="round" stroke-linecap="round"/>
<polyline points="399.4,372.4 395.9,372.4 392.4,372.5" fill="none" stroke="#646464" stroke-width="1.1" stroke-linejoin="round" stroke-linecap="round"/>
<polyline points="392.4,372.5 391.5,373.2" fill="none" stroke="#646464" stroke-width="1.1" stroke-linejoin="round" stroke-linecap="round"/>
<polyline points="383.8,374.0 387.4,373.5 391.1,373.1" fill="none" stroke="#646464" stroke-width="1.1" stroke-linejoin="round" stroke-linecap="round"/>
<polyline points="391.5,373.2 391.1,373.1" fill="none" stroke="#646464" stroke-width="1.1" stroke-linejoin="round" stroke-linecap="round"/>
<polyline points="337.0,384.2 338.8,383.7" fill="none" stroke="#646464" stroke-width="1.1" stroke-linejoin="round" stroke-linecap="round"/>
<polyline points="337.8,379.7 338.8,383.7" fill="none" stroke="#646464" stroke-width="1.1" stroke-linejoin="round" stroke-linecap="round"/>
<polyline points="295.9,414.2 292.3,410.0" fill="none" stroke="#646464" stroke-width="1.1" stroke-linejoin="round" stroke-linecap="round"/>
<polyline points="286.8,409.5 292.0,409.9" fill="none" stroke="#646464" stroke-width="1.1" stroke-linejoin="round" stroke-linecap="round"/>
<polyline points="280.8,420.0 284.9,421.4 289.3,421.7" fill="none" stroke="#646464" stroke-width="1.1" stroke-linejoin="round" stroke-linecap="round"/>
<polyline points="206.4,389.0 210.6,390.4" fill="none" stroke="#646464" stroke-width="1.1" stroke-linejoin="round" stroke-linecap="round"/>
<polyline points="210.6,390.4 211.6,390.1" fill="none" stroke="#646464" stroke-width="1.1" stroke-linejoin="round" stroke-linecap="round"/>
<polyline points="369.6,326.3 372.2,328.7" fill="none" stroke="#646464" stroke-width="1.1" stroke-linejoin="round" stroke-linecap="round"/>
<polyline points="372.2,328.7 371.6,333.3 373.1,337.7" fill="none" stroke="#646464" stroke-width="1.1" stroke-linejoin="round" stroke-linecap="round"/>
<polyline points="271.3,420.7 274.3,421.5 276.6,423.6" fill="none" stroke="#646464" stroke-width="1.1" stroke-linejoin="round" stroke-linecap="round"/>
<polyline points="279.5,420.2 277.5,423.8" fill="none" stroke="#646464" stroke-width="1.1" stroke-linejoin="round" stroke-linecap="round"/>
<polyline points="276.6,423.6 277.5,423.8" fill="none" stroke="#646464" stroke-width="1.1" stroke-linejoin="round" stroke-linecap="round"/>
<polyline points="211.6,390.1 215.6,390.1 219.1,392.3 222.9,393.1" fill="none" stroke="#646464" stroke-width="1.1" stroke-linejoin="round" stroke-linecap="round"/>
<polyline points="90.5,472.9 91.6,476.0 94.3,478.4 95.6,481.4 96.3,484.8 98.4,487.4 99.1,490.9 101.5,493.8 102.1,497.3 103.7,500.5 106.1,504.2 107.6,508.4 105.0,511.7 103.8,515.7 101.1,518.9 100.1,522.1 100.5,525.5 100.1,528.8 99.7,532.1 95.9,533.4 91.8,533.4 92.3,530.1 93.2,526.8 90.8,524.4 87.9,522.9 85.6,520.4 82.6,518.9 79.3,516.5 75.9,514.0 72.1,512.4 70.8,509.7 71.7,505.8 72.6,501.9 73.4,497.9 71.7,494.5 69.4,491.5 66.8,488.7 65.5,487.4" fill="none" stroke="#646464" stroke-width="1.1" stroke-linejoin="round" stroke-linecap="round"/>
<polyline points="70.8,509.7 67.9,511.5 64.9,512.9 61.6,513.7 58.3,516.0 54.4,517.3 51.0,519.3" fill="none" stroke="#646464" stroke-width="1.1" stroke-linejoin="round" stroke-linecap="round"/>
<polyline points="99.7,532.1 104.3,533.0 108.9,533.4 108.4,537.4 108.4,541.4 107.6,545.3 111.3,546.0 114.8,547.3 118.6,547.9 122.1,549.2 125.1,550.6 127.7,552.4 130.4,554.2 132.8,556.4 135.3,558.4 139.1,558.3 142.6,560.0 146.4,559.4 149.9,561.1 153.7,561.1 156.1,558.3 158.9,555.8" fill="none" stroke="#646464" stroke-width="1.1" stroke-linejoin="round" stroke-linecap="round"/>
<polyline points="133.9,465.0 136.7,467.5 139.7,469.7 142.6,472.2 145.8,474.2 150.1,476.3 153.7,479.5 151.3,483.3 149.7,487.4 149.8,491.1 150.9,494.7 150.6,498.4 150.6,502.1 151.1,505.8 152.2,509.2 151.9,512.8 152.9,516.2 152.3,519.9 153.0,523.3 153.7,526.8 156.4,528.7 159.1,530.6 161.9,532.3 164.2,534.7 160.6,536.3 157.3,538.3 153.7,540.0 156.8,543.6 158.9,547.9 161.6,551.8" fill="none" stroke="#646464" stroke-width="1.1" stroke-linejoin="round" stroke-linecap="round"/>
<polyline points="153.7,479.5 157.3,478.4 160.2,476.1 163.3,474.1 166.8,472.9 170.0,471.8 173.3,470.9 176.1,468.9 178.3,465.8 180.0,462.5 182.6,459.7 185.4,461.6 187.9,463.7 193.2,466.3" fill="none" stroke="#646464" stroke-width="1.1" stroke-linejoin="round" stroke-linecap="round"/>
<polyline points="164.2,534.7 167.8,534.4 171.1,532.6 174.7,532.1 175.5,528.8 176.3,525.6 176.2,522.1 177.4,518.9 180.7,517.7 183.5,515.3 186.5,513.4 190.0,512.4 191.8,509.5 193.6,506.6 194.5,503.2" fill="none" stroke="#646464" stroke-width="1.1" stroke-linejoin="round" stroke-linecap="round"/>
<polyline points="417.6,492.4 417.7,495.8 418.4,499.2 417.9,502.7 418.7,506.1 418.9,509.5 418.6,513.2 418.2,516.9 418.8,520.5 418.8,524.2 418.9,527.9 419.3,531.4 419.9,534.9 420.3,538.4" fill="none" stroke="#646464" stroke-width="1.1" stroke-linejoin="round" stroke-linecap="round"/>
<polyline points="318.9,475.3 321.2,479.5 324.2,483.2 326.3,486.4 328.7,489.4 330.4,492.8 332.1,496.3 333.6,499.2 335.7,501.6 337.5,504.3 339.3,507.0 341.3,509.5 345.3,509.0 349.2,508.8 353.2,509.5 356.3,507.3 359.6,505.3 363.3,504.1 366.3,501.6 367.8,498.4 368.9,495.0 372.2,494.8 375.0,492.9 378.2,492.4 382.0,491.2 385.4,489.3 388.7,487.1 392.3,489.3 395.3,492.4 399.0,490.4 403.2,489.7 407.1,489.0 411.1,488.4 414.6,490.0 417.6,492.4 421.5,491.5 425.5,491.1" fill="none" stroke="#646464" stroke-width="1.1" stroke-linejoin="round" stroke-linecap="round"/>
<polyline points="341.3,509.5 341.1,512.9 339.7,516.0 340.0,519.5 338.7,522.6 337.7,526.5 338.6,530.5 338.0,534.5 337.4,538.4" fill="none" stroke="#646464" stroke-width="1.1" stroke-linejoin="round" stroke-linecap="round"/>
<polyline points="173.4,434.7 169.5,436.1 170.1,439.7 170.7,443.2 172.1,446.6 174.5,449.2 176.9,451.7 179.5,454.0 182.6,455.8 185.4,458.0 188.5,459.7 191.8,461.1 193.9,464.2 197.3,466.0 199.7,468.9 202.4,468.9" fill="none" stroke="#646464" stroke-width="1.1" stroke-linejoin="round" stroke-linecap="round"/>
<polyline points="240.4,442.3 243.9,440.4 246.6,437.4 250.6,439.5 254.0,442.3 259.0,441.1 259.5,444.5 258.6,447.9 259.2,451.3 259.0,454.7 254.5,454.6 250.3,455.9 247.5,459.3 244.2,462.1 244.3,466.2 243.8,470.3 242.9,474.4 244.3,478.7 245.4,483.0 247.8,486.4 251.4,488.5 254.0,491.7" fill="none" stroke="#646464" stroke-width="1.1" stroke-linejoin="round" stroke-linecap="round"/>
<polyline points="259.0,454.7 259.0,458.5 260.2,462.1 261.4,465.8" fill="none" stroke="#646464" stroke-width="1.1" stroke-linejoin="round" stroke-linecap="round"/>
<polyline points="259.0,441.1 262.1,438.1 265.1,434.9 268.4,435.5 271.8,435.3 275.0,436.2 276.8,439.3 278.7,442.3 276.8,445.4 276.7,449.1 275.0,452.2 276.2,456.8 278.7,460.8" fill="none" stroke="#646464" stroke-width="1.1" stroke-linejoin="round" stroke-linecap="round"/>
<polyline points="275.0,436.2 278.2,434.6 281.2,432.5 284.9,433.0 288.6,433.7 292.3,430.0" fill="none" stroke="#646464" stroke-width="1.1" stroke-linejoin="round" stroke-linecap="round"/>
<polyline points="278.7,442.3 282.2,440.5 286.1,439.9 291.0,437.4" fill="none" stroke="#646464" stroke-width="1.1" stroke-linejoin="round" stroke-linecap="round"/>
</g>
<polygon points="156.6,334.5 159.5,329.6 163.4,330.7 167.4,330.6 171.0,331.1 174.3,332.6 176.8,330.1 179.3,327.6 183.2,329.6 184.1,333.0 184.2,336.5 182.2,342.4 181.2,347.4 177.3,348.4 174.3,347.4 172.0,344.7 169.4,342.4 165.7,341.9 162.1,341.0 158.6,339.5" fill="#a7d18c" stroke="#66665a" stroke-width="1.1" stroke-linejoin="round" />
<polygon points="175.3,348.4 181.2,347.4 185.2,347.3 189.1,348.4 190.9,351.7 192.1,355.3 193.4,359.2 194.1,363.2 195.1,368.1 191.8,370.4 188.2,372.0 186.4,375.6 184.2,378.9 182.2,384.9 177.3,387.8 174.3,385.8 171.5,383.7 169.4,380.9 168.1,377.5 167.4,374.0 165.5,368.1 164.5,363.2 167.4,359.2 171.4,356.2 173.4,351.3" fill="#a7d18c" stroke="#66665a" stroke-width="1.1" stroke-linejoin="round" />
<polygon points="160.5,323.7 164.1,323.2 167.4,321.7 170.9,322.1 174.3,322.7 177.8,322.3 181.2,321.7 182.6,326.6 179.3,327.6 176.8,330.1 174.3,332.6 171.0,331.1 167.4,330.6 163.4,330.7 159.5,329.6" fill="#ffd862" stroke="#66665a" stroke-width="1.1" stroke-linejoin="round" />
<polygon points="169.4,314.8 172.8,313.3 176.3,311.8 182.2,310.9 182.2,306.9 186.1,306.1 190.1,305.9 196.1,305.9 197.1,309.8 197.0,313.8 193.1,314.8 191.1,319.7 188.2,321.7 182.2,321.7 178.3,322.1 174.3,322.1 169.4,320.7" fill="#fc8341" stroke="#66665a" stroke-width="1.1" stroke-linejoin="round" />
<polygon points="207.9,319.7 213.8,318.7 216.7,320.8 219.7,322.7 219.0,326.1 218.7,329.6 220.7,335.5 216.3,336.5 211.8,336.5 205.9,335.5 206.6,331.6 205.9,327.6 203.9,322.7" fill="#a7d18c" stroke="#66665a" stroke-width="1.1" stroke-linejoin="round" />
<polygon points="205.9,336.5 209.6,335.9 213.3,335.8 217.0,336.2 220.7,336.5 221.7,339.9 221.7,343.4 221.3,347.4 220.7,351.3 218.9,355.1 217.8,359.2 214.1,361.4 209.9,362.2 206.4,360.8 203.0,359.2 201.0,353.3 202.0,347.4 199.0,347.4 201.5,344.9 203.9,342.4" fill="#a7d18c" stroke="#66665a" stroke-width="1.1" stroke-linejoin="round" />
<polygon points="221.6,321.7 224.9,319.7 228.8,320.4 232.8,321.7 238.7,321.1 243.9,322.4 249.2,323.7 250.5,327.6 249.9,330.9 252.5,332.2 250.5,335.5 245.9,336.8 242.0,338.2 238.7,340.1 234.7,338.8 230.8,336.2 227.5,334.9 222.9,334.2 219.6,332.2 218.3,329.6 220.9,327.0 222.2,324.3" fill="#ffd862" stroke="#66665a" stroke-width="1.1" stroke-linejoin="round" />
<polygon points="228.2,290.8 231.4,287.5 234.7,287.8 238.0,287.5 242.0,287.0 245.9,286.2 247.9,289.5 251.2,293.4 253.8,294.7 250.5,297.4 247.2,299.3 244.6,302.0 239.3,301.3 236.1,298.0 231.4,296.1 229.5,293.4" fill="#a7d18c" stroke="#66665a" stroke-width="1.1" stroke-linejoin="round" />
<polygon points="272.9,288.2 275.5,290.8 276.2,296.7 278.2,301.3 280.8,304.6 280.1,308.6 277.5,307.9 275.5,310.5 274.2,314.5 273.6,318.4 270.3,317.1 266.3,314.5 263.0,310.5 260.4,305.9 258.4,304.6 261.1,302.8 264.3,302.0 268.9,300.0 271.6,294.7 271.7,291.3" fill="#a7d18c" stroke="#66665a" stroke-width="1.1" stroke-linejoin="round" />
<polygon points="246.2,283.6 248.2,281.6 252.3,282.0 256.4,280.8 257.7,282.0 261.0,282.8 265.1,282.0 266.3,280.3 267.5,281.2 267.1,283.2 266.3,285.7 267.1,288.2 270.0,284.9 273.3,285.3 275.0,287.3 273.7,289.0 271.7,291.4 270.8,294.7 269.2,298.4 266.3,300.5 262.2,302.1 258.9,303.8 256.9,306.3 254.0,303.8 250.7,301.3 247.8,299.7 250.3,297.6 253.6,294.3 250.7,291.4 247.4,288.6 246.6,285.7" fill="#fc8341" stroke="#66665a" stroke-width="1.1" stroke-linejoin="round" />
<polygon points="225.9,401.7 229.6,400.9 234.8,401.7 236.3,405.4 233.3,409.1 234.8,415.0 235.9,418.8 237.7,422.4 240.5,425.4 242.2,429.1 244.4,433.5 242.9,437.2 240.7,439.4 236.3,438.7 231.8,441.6 226.6,440.2 222.2,443.1 218.5,444.6 215.5,441.6 212.6,437.2 211.0,434.1 208.9,431.3 208.1,425.4 205.2,420.2 206.3,417.1 208.1,414.3 212.6,410.6 216.3,408.3 222.2,409.1 225.2,409.8 224.4,405.4" fill="#a7d18c" stroke="#66665a" stroke-width="1.1" stroke-linejoin="round" />
<polygon points="215.8,446.0 219.0,444.1 222.2,442.5 225.6,441.1 229.3,441.7 233.0,440.5 236.7,441.1 240.4,442.3 239.5,446.0 239.2,449.7 237.4,453.4 235.5,457.1 233.8,460.9 231.8,464.5 231.6,468.3 230.6,471.9 228.0,474.9 225.6,478.1 226.9,481.8 230.4,482.4 233.2,484.9 236.7,485.5 241.7,488.0 240.4,491.7 235.5,491.7 234.3,496.6 238.0,500.3 233.0,504.0 229.7,504.6 226.3,505.0 223.2,506.5 219.1,505.8 214.9,505.7 210.8,505.3 207.5,505.3 204.3,504.5 201.0,504.0 196.8,502.1 192.3,501.6 189.8,498.2 188.6,494.1 187.2,491.1 186.2,488.0 188.2,485.0 189.9,481.8 191.5,478.2 192.3,474.4 191.8,470.7 191.1,467.0 194.7,468.5 198.5,469.5 203.4,467.0 203.5,463.7 204.3,460.4 204.7,457.1 203.4,452.2 206.3,450.4 209.6,449.7 212.3,447.2" fill="#a7d18c" stroke="#66665a" stroke-width="1.1" stroke-linejoin="round" />
<polygon points="241.7,488.0 244.1,486.7 247.6,488.0 250.4,490.7 254.0,491.7 260.2,491.7 260.3,487.3 261.4,483.0 262.3,479.8 262.1,476.4 262.7,473.2 261.5,469.6 261.4,465.8 264.9,463.9 268.8,463.3 272.0,462.0 275.5,462.2 278.7,460.8 282.4,460.2 286.1,459.6 288.5,462.1 291.0,464.5 296.0,467.0 300.9,470.7 304.1,473.0 307.1,475.6 310.7,474.2 314.5,473.2 318.2,478.1 317.3,481.8 316.9,485.5 315.2,488.3 314.3,491.6 312.0,494.1 309.9,497.5 307.1,500.3 304.3,502.5 302.1,505.3 298.7,507.3 296.0,510.2 293.6,512.8 291.0,515.1 288.6,519.5 285.7,520.7 282.0,519.3 276.1,517.0 270.1,517.8 265.7,519.3 261.3,517.0 259.1,514.4 256.8,511.9 253.2,513.2 249.4,513.3 247.2,511.9 245.5,508.5 242.9,504.0 242.1,500.3 241.7,496.6 242.4,492.3" fill="#a7d18c" stroke="#66665a" stroke-width="1.1" stroke-linejoin="round" />
<polygon points="291.8,429.5 295.8,428.9 299.7,429.5 304.2,430.7 308.9,430.8 311.3,428.5 314.2,426.8 317.1,428.9 320.2,430.6 323.4,432.1 324.3,434.9 323.2,438.0 321.9,441.1 316.9,444.8 316.8,448.2 317.3,451.5 318.2,454.7 318.1,458.6 317.1,462.2 315.7,465.8 315.4,469.5 314.5,473.2 310.7,474.2 307.1,475.6 304.1,473.0 300.9,470.7 296.0,467.0 296.0,460.8 294.3,456.6 293.5,452.2 294.3,447.9 294.7,443.6 293.2,440.3 291.0,437.4 291.2,433.4" fill="#a7d18c" stroke="#66665a" stroke-width="1.1" stroke-linejoin="round" />
<polygon points="222.2,392.8 225.5,392.4 228.9,392.1 234.8,389.8 235.5,386.1 239.2,385.8 242.9,385.4 244.4,389.8 247.4,388.4 249.6,385.4 253.3,385.4 256.2,389.1 262.2,390.6 265.9,391.2 269.6,392.1 275.5,392.1 277.0,397.2 276.2,400.9 272.5,403.2 274.7,406.9 272.5,409.8 273.3,413.1 273.3,416.5 270.3,420.9 268.8,425.4 272.5,429.1 275.5,433.5 272.5,435.0 268.9,434.0 265.1,433.5 259.9,434.2 259.2,438.7 257.0,442.4 253.3,440.9 249.6,436.5 245.9,432.0 243.7,429.1 245.9,423.9 251.1,420.2 254.0,418.0 254.8,412.0 254.0,406.1 250.6,406.2 247.4,405.4 242.9,406.1 238.5,403.9 234.8,401.7 229.6,400.9 225.2,398.7 223.5,395.9" fill="#fc8341" stroke="#66665a" stroke-width="1.1" stroke-linejoin="round" />
<polygon points="358.9,339.7 362.6,339.5 366.3,338.6 370.0,338.2 373.8,338.9 377.4,337.9 377.4,341.6 377.7,345.3 378.7,348.9 375.5,349.5 372.4,350.5 369.5,352.1 364.9,351.0 360.3,350.3 359.6,346.8 359.0,343.3" fill="#e2e2e5" stroke="#66665a" stroke-width="1.1" stroke-linejoin="round" />
<polygon points="362.5,358.2 364.5,356.2 369.7,354.2 373.1,353.0 376.3,351.6 380.3,349.5 384.9,350.2 386.2,349.5 388.2,354.1 389.5,359.4 388.8,363.3 386.2,367.3 384.9,368.7 381.6,366.1 376.3,367.4 370.4,368.0 367.1,366.7 364.5,362.1" fill="#a7d18c" stroke="#66665a" stroke-width="1.1" stroke-linejoin="round" />
<polygon points="354.8,414.0 356.6,413.4 360.5,409.5 364.5,406.8 364.5,403.6 367.1,402.9 370.4,404.9 373.7,406.8 375.0,401.6 377.6,397.0 381.6,397.0 382.2,393.0 384.9,397.6 389.5,401.6 391.0,404.8 392.1,408.2 392.8,411.8 394.7,415.0 396.2,420.0 396.8,424.4 396.2,428.8 394.3,433.1 393.3,437.7 390.8,441.8 387.4,445.1 383.2,443.0 378.5,442.2 374.4,441.8 370.5,440.5 366.6,439.2 362.7,438.6 358.8,438.0 354.8,437.7 354.3,434.3 353.1,430.9 353.3,427.4 353.3,424.0 354.6,420.8 354.3,417.3" fill="#a7d18c" stroke="#66665a" stroke-width="1.1" stroke-linejoin="round" />
<polygon points="294.5,376.6 299.1,375.8 303.7,375.3 307.5,377.1 311.6,377.9 314.2,381.8 313.5,385.1 314.2,388.4 316.8,392.4 320.4,391.8 324.1,392.8 327.7,391.7 331.3,392.4 334.6,391.1 337.9,389.7 339.2,392.6 341.6,395.0 343.2,397.9 343.5,402.5 343.2,407.1 340.7,410.6 337.9,413.7 333.1,413.0 328.7,411.1 325.0,411.4 321.5,410.3 317.8,410.2 314.2,409.7 311.0,407.8 307.6,406.6 304.2,405.3 301.1,403.2 298.1,401.6 295.8,399.2 294.9,395.9 295.0,392.5 295.6,389.1 294.5,385.8 295.1,381.2" fill="#a7d18c" stroke="#66665a" stroke-width="1.1" stroke-linejoin="round" />
<polygon points="314.2,381.8 318.2,381.6 322.1,380.5 325.8,380.6 329.3,382.4 332.9,383.0 336.6,383.2 336.9,386.5 337.9,389.7 334.6,391.1 331.3,392.4 327.7,391.7 324.1,392.8 320.4,391.8 316.8,392.4 314.2,388.4 313.5,385.1" fill="#fc8341" stroke="#66665a" stroke-width="1.1" stroke-linejoin="round" />
<polygon points="360.5,353.6 362.5,358.2 364.5,362.1 367.1,366.7 370.4,368.0 376.3,367.4 381.6,366.1 383.6,369.3 382.9,373.3 384.2,377.9 386.8,383.2 390.1,387.1 389.5,389.7 384.9,390.4 382.2,393.0 381.6,397.0 377.6,397.0 375.0,401.6 373.7,406.8 370.4,404.9 367.1,402.9 364.5,403.6 363.2,399.6 359.9,396.3 355.9,395.7 351.3,398.9 348.0,402.9 346.1,406.2 344.7,402.9 346.7,398.3 348.7,395.0 349.5,391.7 350.7,388.4 349.3,385.1 344.7,384.5 340.8,382.5 340.1,377.9 343.4,375.9 340.8,372.6 336.2,372.6 334.2,374.6 333.6,370.0 332.2,364.7 334.9,360.8 338.2,358.2 343.4,358.2 346.7,356.8 351.3,357.5 355.3,354.9" fill="#ff0000" stroke="#e02020" stroke-width="1.1" stroke-linejoin="round" />
<polygon points="380.3,325.2 384.2,322.5 389.5,321.2 394.7,321.5 397.4,324.5 396.7,327.8 400.7,330.4 401.3,333.1 399.3,335.0 400.0,337.7 396.7,338.3 394.7,336.3 393.4,333.1 390.1,330.4 386.2,327.8 382.9,326.5" fill="#fc8341" stroke="#66665a" stroke-width="1.1" stroke-linejoin="round" />
<polygon points="394.1,339.0 400.0,339.0 402.6,342.9 403.3,346.9 400.7,350.2 399.3,354.1 397.4,358.1 394.7,362.0 391.4,362.7 389.5,359.4 388.2,354.1 386.2,349.5 387.5,347.5 391.4,346.2 393.4,342.9" fill="#ffd862" stroke="#66665a" stroke-width="1.1" stroke-linejoin="round" />
<polygon points="403.3,346.9 403.6,343.6 403.3,340.3 407.9,338.3 411.2,340.3 417.1,340.3 418.4,336.3 421.1,337.0 423.7,340.9 427.0,344.2 431.6,343.6 435.5,340.3 440.8,337.7 445.4,337.7 447.4,341.6 447.3,344.9 448.0,348.2 446.7,354.1 443.4,356.7 438.2,358.1 435.5,360.0 434.9,364.6 432.9,368.6 427.6,367.3 423.7,364.6 420.4,360.0 417.1,358.1 416.4,355.4 410.5,354.1 405.9,352.8 402.0,350.8" fill="#a7d18c" stroke="#66665a" stroke-width="1.1" stroke-linejoin="round" />
<polygon points="497.4,353.7 501.3,351.6 506.6,354.2 507.1,358.8 507.9,363.4 506.5,367.1 504.7,370.5 499.5,373.2 496.8,371.0 494.2,368.7 492.1,365.2 489.5,362.1 492.6,357.4" fill="#ffd862" stroke="#66665a" stroke-width="1.1" stroke-linejoin="round" />
<polygon points="471.1,397.9 475.1,397.9 478.9,396.6 482.3,395.4 486.0,395.7 489.5,395.3 493.5,394.0 497.4,392.6 498.1,396.1 500.0,399.2 502.1,401.8 498.7,405.8 501.3,409.7 497.3,411.6 493.4,413.7 488.2,416.3 487.9,420.3 486.8,424.2 483.5,424.5 480.3,425.5 476.7,422.9 472.4,421.6 469.1,422.3 465.8,422.9 464.4,419.1 464.5,415.0 467.6,411.5 471.1,408.4 470.5,404.9 471.0,401.4" fill="#ffd862" stroke="#66665a" stroke-width="1.1" stroke-linejoin="round" />
<polygon points="158.6,554.8 163.6,551.1 167.2,552.3 171.0,552.3 175.9,556.0 182.1,554.8 187.0,558.5 190.6,557.3 194.4,557.3 198.8,557.4 203.0,558.5 205.2,555.7 208.0,553.6 210.9,551.1 215.2,549.6 219.8,548.9 221.6,546.0 224.2,543.7 227.2,538.5 233.1,536.3 233.3,532.5 232.4,528.9 234.6,525.2 237.5,523.5 240.1,521.5 242.6,519.2 245.7,517.8 247.2,511.9 249.4,513.3 253.2,513.2 256.8,511.9 259.1,514.4 261.3,517.0 265.7,519.3 270.1,517.8 276.1,517.0 282.0,519.3 285.7,520.7 286.1,525.9 284.8,530.3 284.2,534.8 284.6,538.3 284.8,541.8 285.7,545.2 286.9,546.2 286.4,550.5 285.7,554.8 287.6,558.3 288.2,562.2 286.9,568.4 293.1,569.6 295.6,573.3 291.9,574.5 288.2,573.2 284.5,572.1 281.3,573.0 278.3,574.5 274.8,574.7 271.6,575.9 268.4,577.0 265.1,576.9 261.8,577.6 258.6,578.2 253.6,577.0 251.2,573.3 247.4,573.4 243.8,572.1 240.1,572.4 236.4,573.3 232.7,574.7 229.0,575.8 226.5,580.7 220.3,581.9 214.1,583.2 211.7,588.1 208.4,589.5 205.5,591.8 200.6,591.8 196.9,586.9 191.9,584.4 187.0,588.1 182.1,586.9 178.8,586.1 175.9,584.4 172.3,585.3 168.5,585.6 166.0,584.4 166.4,580.7 167.3,577.0 171.0,572.1 172.2,565.9 168.5,563.4 162.3,562.2 158.6,558.5" fill="#ffd862" stroke="#66665a" stroke-width="1.1" stroke-linejoin="round" />
<polygon points="166.0,584.4 168.5,585.6 172.3,585.3 175.9,584.4 178.8,586.1 182.1,586.9 187.0,588.1 191.9,584.4 196.9,586.9 200.6,591.8 205.5,591.8 208.4,589.5 211.7,588.1 214.1,583.2 220.3,581.9 226.5,580.7 229.0,575.8 232.7,574.7 236.4,573.3 240.1,572.4 243.8,572.1 247.4,573.4 251.2,573.3 253.6,577.0 252.4,581.9 250.5,585.4 247.5,588.1 246.5,591.9 245.0,595.5 245.4,599.2 245.0,602.9 248.7,607.9 251.2,611.6 248.7,615.3 245.0,616.0 242.0,614.7 239.0,613.5 236.4,611.6 233.5,609.9 230.0,609.7 227.0,608.0 224.0,606.6 221.0,605.5 217.8,604.8 214.8,603.6 211.7,602.9 208.5,602.2 205.3,601.6 202.3,600.5 199.3,599.2 195.3,598.0 191.1,597.6 187.0,596.8 183.8,596.2 180.7,595.4 177.6,594.4 174.7,593.0 171.1,591.6 167.3,590.6" fill="#c00000" stroke="#a01010" stroke-width="1.1" stroke-linejoin="round" />
<polyline points="335.1,392.6 332.4,396.2 331.5,402.5 334.8,402.9 337.8,404.3 344.1,405.2" fill="none" stroke="#6b6b5b" stroke-width="0.9" stroke-linejoin="round" stroke-linecap="round"/>
<polyline points="297.1,392.6 301.6,396.2 305.4,396.5 308.9,398.0 312.5,393.5 314.3,390.8" fill="none" stroke="#6b6b5b" stroke-width="0.9" stroke-linejoin="round" stroke-linecap="round"/>
<polyline points="272.5,293.1 272.6,297.6 272.1,302.1 273.9,306.0 274.3,310.3" fill="none" stroke="#6b6b5b" stroke-width="0.9" stroke-linejoin="round" stroke-linecap="round"/>
<path d="M185.8,311.6V320.0M181.9,313.5L189.7,318.1M181.9,318.1L189.7,313.5" stroke="#000" stroke-width="1.55" fill="none"/>
<path d="M171.4,323.4V331.8M167.5,325.3L175.3,329.9M167.5,329.9L175.3,325.3" stroke="#000" stroke-width="1.55" fill="none"/>
<path d="M260.8,287.2V295.6M256.9,289.1L264.7,293.7M256.9,293.7L264.7,289.1" stroke="#000" stroke-width="1.55" fill="none"/>
<path d="M263.9,407.1V415.5M260.0,409.0L267.8,413.6M260.0,413.6L267.8,409.0" stroke="#000" stroke-width="1.55" fill="none"/>
<path d="M322.6,382.9V391.3M318.7,384.8L326.5,389.4M318.7,389.4L326.5,384.8" stroke="#000" stroke-width="1.55" fill="none"/>
<path d="M319.5,400.3V408.7M315.6,402.2L323.4,406.8M315.6,406.8L323.4,402.2" stroke="#000" stroke-width="1.55" fill="none"/>
<path d="M361.4,374.1V382.5M357.5,376.0L365.3,380.6M357.5,380.6L365.3,376.0" stroke="#000" stroke-width="1.55" fill="none"/>
<path d="M394.3,348.3V356.7M390.4,350.2L398.2,354.8M390.4,354.8L398.2,350.2" stroke="#000" stroke-width="1.55" fill="none"/>
<path d="M250.4,545.7V554.1M246.5,547.6L254.3,552.2M246.5,552.2L254.3,547.6" stroke="#000" stroke-width="1.55" fill="none"/>
<path d="M232.7,592.1V600.5M228.8,594.0L236.6,598.6M228.8,598.6L236.6,594.0" stroke="#000" stroke-width="1.55" fill="none"/>
</g>
<rect x="41.3" y="259" width="91.7" height="34.6" rx="7.5" ry="7.5" fill="#3b68b2"/>
<circle cx="51.40" cy="269.80" r="2.70" fill="#d5a55e"/><path d="M47.40,276.20 Q47.40,274.20 49.40,274.20 L51.80,274.20 Q53.80,274.20 53.80,276.20 L53.80,281.17 L52.90,282.17 L52.90,287.60 L48.30,287.60 L48.30,282.17 L47.40,281.17 Z" fill="#d5a55e"/><circle cx="66.50" cy="269.80" r="2.70" fill="#d5a55e"/><path d="M64.20,276.20 Q64.20,274.20 66.20,274.20 L68.60,274.20 Q70.60,274.20 70.60,276.20 L70.60,281.17 L69.70,282.17 L69.70,287.60 L65.10,287.60 L65.10,282.17 L64.20,281.17 Z" fill="#d5a55e"/><circle cx="58.90" cy="267.30" r="3.20" fill="#0b0b12"/><path d="M54.30,274.60 Q54.30,272.60 56.30,272.60 L61.60,272.60 Q63.60,272.60 63.60,274.60 L63.60,281.39 L62.30,282.39 L62.30,289.50 L55.60,289.50 L55.60,282.39 L54.30,281.39 Z" fill="#0b0b12"/>
<text x="77.2" y="285.4" font-size="24.6" font-weight="normal" fill="#fff" text-anchor="start" textLength="40.0" lengthAdjust="spacingAndGlyphs" >935</text>
<text x="52.6" y="303.6" font-size="11" font-weight="normal" fill="#111" text-anchor="start" textLength="70.0" lengthAdjust="spacingAndGlyphs" >Total de casos</text>
<text x="58.6" y="319.5" font-size="10.9" font-weight="normal" fill="#111" text-anchor="start" textLength="57.4" lengthAdjust="spacingAndGlyphs" >NEGATIVOS</text>
<rect x="41.3" y="327.3" width="91.7" height="34.3" rx="7.5" ry="7.5" fill="#a6a6a6"/>
<circle cx="51.40" cy="338.00" r="2.70" fill="#f4c6a4"/><path d="M47.40,344.40 Q47.40,342.40 49.40,342.40 L51.80,342.40 Q53.80,342.40 53.80,344.40 L53.80,349.37 L52.90,350.37 L52.90,355.80 L48.30,355.80 L48.30,350.37 L47.40,349.37 Z" fill="#f4c6a4"/><circle cx="66.50" cy="338.00" r="2.70" fill="#f4c6a4"/><path d="M64.20,344.40 Q64.20,342.40 66.20,342.40 L68.60,342.40 Q70.60,342.40 70.60,344.40 L70.60,349.37 L69.70,350.37 L69.70,355.80 L65.10,355.80 L65.10,350.37 L64.20,349.37 Z" fill="#f4c6a4"/><circle cx="58.90" cy="335.50" r="3.20" fill="#3a2828"/><path d="M54.30,342.80 Q54.30,340.80 56.30,340.80 L61.60,340.80 Q63.60,340.80 63.60,342.80 L63.60,349.59 L62.30,350.59 L62.30,357.70 L55.60,357.70 L55.60,350.59 L54.30,349.59 Z" fill="#3a2828"/>
<text x="76.4" y="353.9" font-size="24.6" font-weight="normal" fill="#fff" text-anchor="start" textLength="41.0" lengthAdjust="spacingAndGlyphs" >250</text>
<text x="52.3" y="373.0" font-size="11" font-weight="normal" fill="#111" text-anchor="start" textLength="70.6" lengthAdjust="spacingAndGlyphs" >Total de casos</text>
<text x="50.4" y="389.0" font-size="10.9" font-weight="normal" fill="#111" text-anchor="start" textLength="73.6" lengthAdjust="spacingAndGlyphs" >SOSPECHOSOS</text>
<rect x="41.3" y="396.7" width="91.7" height="34" rx="7.5" ry="7.5" fill="#ff0000"/>
<circle cx="51.40" cy="407.00" r="2.70" fill="#ffc000"/><path d="M47.40,413.40 Q47.40,411.40 49.40,411.40 L51.80,411.40 Q53.80,411.40 53.80,413.40 L53.80,418.37 L52.90,419.37 L52.90,424.80 L48.30,424.80 L48.30,419.37 L47.40,418.37 Z" fill="#ffc000"/><circle cx="66.50" cy="407.00" r="2.70" fill="#ffc000"/><path d="M64.20,413.40 Q64.20,411.40 66.20,411.40 L68.60,411.40 Q70.60,411.40 70.60,413.40 L70.60,418.37 L69.70,419.37 L69.70,424.80 L65.10,424.80 L65.10,419.37 L64.20,418.37 Z" fill="#ffc000"/><circle cx="58.90" cy="404.50" r="3.20" fill="#150808"/><path d="M54.30,411.80 Q54.30,409.80 56.30,409.80 L61.60,409.80 Q63.60,409.80 63.60,411.80 L63.60,418.59 L62.30,419.59 L62.30,426.70 L55.60,426.70 L55.60,419.59 L54.30,418.59 Z" fill="#150808"/>
<text x="83.6" y="421.9" font-size="24.6" font-weight="normal" fill="#fff" text-anchor="start" textLength="41.6" lengthAdjust="spacingAndGlyphs" >178</text>
<text x="52.3" y="441.0" font-size="11" font-weight="normal" fill="#111" text-anchor="start" textLength="70.6" lengthAdjust="spacingAndGlyphs" >Total de casos</text>
<text x="48.7" y="457.0" font-size="10.9" font-weight="normal" fill="#111" text-anchor="start" textLength="76.6" lengthAdjust="spacingAndGlyphs" >CONFIRMADOS</text>
<rect x="40" y="583.6" width="103" height="35.6" rx="8.5" ry="8.5" fill="#bf9003"/>
<circle cx="52.60" cy="595.80" r="2.70" fill="#f6efdc"/><path d="M48.60,602.20 Q48.60,600.20 50.60,600.20 L53.00,600.20 Q55.00,600.20 55.00,602.20 L55.00,607.17 L54.10,608.17 L54.10,613.60 L49.50,613.60 L49.50,608.17 L48.60,607.17 Z" fill="#f6efdc"/><circle cx="67.70" cy="595.80" r="2.70" fill="#f6efdc"/><path d="M65.40,602.20 Q65.40,600.20 67.40,600.20 L69.80,600.20 Q71.80,600.20 71.80,602.20 L71.80,607.17 L70.90,608.17 L70.90,613.60 L66.30,613.60 L66.30,608.17 L65.40,607.17 Z" fill="#f6efdc"/><circle cx="60.10" cy="593.30" r="3.20" fill="#f6efdc"/><path d="M55.50,600.60 Q55.50,598.60 57.50,598.60 L62.80,598.60 Q64.80,598.60 64.80,600.60 L64.80,607.39 L63.50,608.39 L63.50,615.50 L56.80,615.50 L56.80,608.39 L55.50,607.39 Z" fill="#f6efdc"/>
<text x="77.0" y="610.7" font-size="24" font-weight="normal" fill="#fff3cf" text-anchor="start" textLength="56.6" lengthAdjust="spacingAndGlyphs" >1,363</text>
<text x="72.4" y="630.9" font-size="10.9" font-weight="normal" fill="#111" text-anchor="start" textLength="31.9" lengthAdjust="spacingAndGlyphs" >TOTAL</text>
<rect x="316.2" y="583.5" width="92.6" height="34.8" rx="7.5" ry="7.5" fill="#1cb04c" stroke="#79c67b" stroke-width="1"/>
<circle cx="328.60" cy="595.80" r="2.70" fill="#e3f1df"/><path d="M324.60,602.20 Q324.60,600.20 326.60,600.20 L329.00,600.20 Q331.00,600.20 331.00,602.20 L331.00,607.17 L330.10,608.17 L330.10,613.60 L325.50,613.60 L325.50,608.17 L324.60,607.17 Z" fill="#e3f1df"/><circle cx="343.70" cy="595.80" r="2.70" fill="#e3f1df"/><path d="M341.40,602.20 Q341.40,600.20 343.40,600.20 L345.80,600.20 Q347.80,600.20 347.80,602.20 L347.80,607.17 L346.90,608.17 L346.90,613.60 L342.30,613.60 L342.30,608.17 L341.40,607.17 Z" fill="#e3f1df"/><circle cx="336.10" cy="593.30" r="3.20" fill="#e3f1df"/><path d="M331.50,600.60 Q331.50,598.60 333.50,598.60 L338.80,598.60 Q340.80,598.60 340.80,600.60 L340.80,607.39 L339.50,608.39 L339.50,615.50 L332.80,615.50 L332.80,608.39 L331.50,607.39 Z" fill="#e3f1df"/>
<text x="357.6" y="610.9" font-size="24" font-weight="normal" fill="#e8f5e4" text-anchor="start" textLength="24.6" lengthAdjust="spacingAndGlyphs" >35</text>
<text x="327.2" y="631.3" font-size="10.9" font-weight="normal" fill="#111" text-anchor="start" textLength="74.3" lengthAdjust="spacingAndGlyphs" >RECUPERADOS</text>
<rect x="422.2" y="583.2" width="92.7" height="35.2" rx="8" ry="8" fill="#0d0d0d"/>
<circle cx="442.90" cy="591.40" r="3.10" fill="#fff"/><path d="M438.50,598.20 Q438.50,596.20 440.50,596.20 L445.30,596.20 Q447.30,596.20 447.30,598.20 L447.30,605.77 L445.80,606.77 L445.80,614.60 L440.00,614.60 L440.00,606.77 L438.50,605.77 Z" fill="#fff"/>
<text x="455.2" y="610.9" font-size="24" font-weight="normal" fill="#fff" text-anchor="start" textLength="37.0" lengthAdjust="spacingAndGlyphs" >27*</text>
<text x="434.4" y="628.7" font-size="10.9" font-weight="normal" fill="#111" text-anchor="start" textLength="72.9" lengthAdjust="spacingAndGlyphs" >DEFUNCIONES</text>
<polygon points="-3,700 6.2,689.8 15,700" fill="#2fb3b8"/>
<polygon points="193.5,700 202.6,689.8 211.5,700" fill="#5c2a55"/>
</svg></body></html>
